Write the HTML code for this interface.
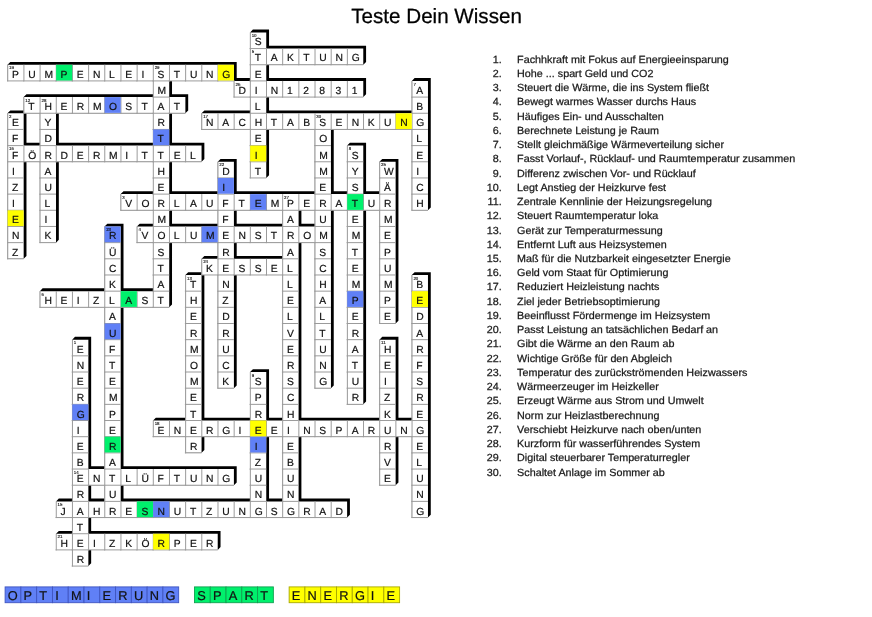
<!DOCTYPE html>
<html><head><meta charset="utf-8"><title>Teste Dein Wissen</title>
<style>
html,body{margin:0;padding:0;background:#fff;}
body{width:872px;height:617px;overflow:hidden;}
svg{display:block;will-change:transform;font-family:"Liberation Sans",sans-serif;text-rendering:geometricPrecision;}
</style></head><body>
<svg width="872" height="617" viewBox="0 0 872 617">
<path d="M250.08 64.74 250.08 48.57 252.88 45.77 269.05 45.77 269.05 61.94 266.25 64.74ZM266.25 64.74 266.25 48.57 269.05 45.77 285.22 45.77 285.22 61.94 282.42 64.74ZM282.42 64.74 282.42 48.57 285.22 45.77 301.4 45.77 301.4 61.94 298.6 64.74ZM298.6 64.74 298.6 48.57 301.4 45.77 317.57 45.77 317.57 61.94 314.77 64.74ZM314.77 64.74 314.77 48.57 317.57 45.77 333.74 45.77 333.74 61.94 330.94 64.74ZM330.94 64.74 330.94 48.57 333.74 45.77 349.91 45.77 349.91 61.94 347.11 64.74ZM347.11 64.74 347.11 48.57 349.91 45.77 366.08 45.77 366.08 61.94 363.28 64.74ZM7.5 80.92 7.5 64.74 10.3 61.94 26.47 61.94 26.47 78.12 23.67 80.92ZM23.67 80.92 23.67 64.74 26.47 61.94 42.64 61.94 42.64 78.12 39.84 80.92ZM39.84 80.92 39.84 64.74 42.64 61.94 58.82 61.94 58.82 78.12 56.02 80.92ZM56.02 80.92 56.02 64.74 58.82 61.94 74.99 61.94 74.99 78.12 72.19 80.92ZM72.19 80.92 72.19 64.74 74.99 61.94 91.16 61.94 91.16 78.12 88.36 80.92ZM88.36 80.92 88.36 64.74 91.16 61.94 107.33 61.94 107.33 78.12 104.53 80.92ZM104.53 80.92 104.53 64.74 107.33 61.94 123.5 61.94 123.5 78.12 120.7 80.92ZM120.7 80.92 120.7 64.74 123.5 61.94 139.68 61.94 139.68 78.12 136.88 80.92ZM136.88 80.92 136.88 64.74 139.68 61.94 155.85 61.94 155.85 78.12 153.05 80.92ZM153.05 80.92 153.05 64.74 155.85 61.94 172.02 61.94 172.02 78.12 169.22 80.92ZM169.22 80.92 169.22 64.74 172.02 61.94 188.19 61.94 188.19 78.12 185.39 80.92ZM185.39 80.92 185.39 64.74 188.19 61.94 204.36 61.94 204.36 78.12 201.56 80.92ZM201.56 80.92 201.56 64.74 204.36 61.94 220.54 61.94 220.54 78.12 217.74 80.92ZM217.74 80.92 217.74 64.74 220.54 61.94 236.71 61.94 236.71 78.12 233.91 80.92ZM233.91 97.09 233.91 80.92 236.71 78.12 252.88 78.12 252.88 94.29 250.08 97.09ZM250.08 97.09 250.08 80.92 252.88 78.12 269.05 78.12 269.05 94.29 266.25 97.09ZM266.25 97.09 266.25 80.92 269.05 78.12 285.22 78.12 285.22 94.29 282.42 97.09ZM282.42 97.09 282.42 80.92 285.22 78.12 301.4 78.12 301.4 94.29 298.6 97.09ZM298.6 97.09 298.6 80.92 301.4 78.12 317.57 78.12 317.57 94.29 314.77 97.09ZM314.77 97.09 314.77 80.92 317.57 78.12 333.74 78.12 333.74 94.29 330.94 97.09ZM330.94 97.09 330.94 80.92 333.74 78.12 349.91 78.12 349.91 94.29 347.11 97.09ZM347.11 97.09 347.11 80.92 349.91 78.12 366.08 78.12 366.08 94.29 363.28 97.09ZM23.67 113.26 23.67 97.09 26.47 94.29 42.64 94.29 42.64 110.46 39.84 113.26ZM39.84 113.26 39.84 97.09 42.64 94.29 58.82 94.29 58.82 110.46 56.02 113.26ZM56.02 113.26 56.02 97.09 58.82 94.29 74.99 94.29 74.99 110.46 72.19 113.26ZM72.19 113.26 72.19 97.09 74.99 94.29 91.16 94.29 91.16 110.46 88.36 113.26ZM88.36 113.26 88.36 97.09 91.16 94.29 107.33 94.29 107.33 110.46 104.53 113.26ZM104.53 113.26 104.53 97.09 107.33 94.29 123.5 94.29 123.5 110.46 120.7 113.26ZM120.7 113.26 120.7 97.09 123.5 94.29 139.68 94.29 139.68 110.46 136.88 113.26ZM136.88 113.26 136.88 97.09 139.68 94.29 155.85 94.29 155.85 110.46 153.05 113.26ZM153.05 113.26 153.05 97.09 155.85 94.29 172.02 94.29 172.02 110.46 169.22 113.26ZM169.22 113.26 169.22 97.09 172.02 94.29 188.19 94.29 188.19 110.46 185.39 113.26ZM201.56 129.43 201.56 113.26 204.36 110.46 220.54 110.46 220.54 126.63 217.74 129.43ZM217.74 129.43 217.74 113.26 220.54 110.46 236.71 110.46 236.71 126.63 233.91 129.43ZM233.91 129.43 233.91 113.26 236.71 110.46 252.88 110.46 252.88 126.63 250.08 129.43ZM250.08 129.43 250.08 113.26 252.88 110.46 269.05 110.46 269.05 126.63 266.25 129.43ZM266.25 129.43 266.25 113.26 269.05 110.46 285.22 110.46 285.22 126.63 282.42 129.43ZM282.42 129.43 282.42 113.26 285.22 110.46 301.4 110.46 301.4 126.63 298.6 129.43ZM298.6 129.43 298.6 113.26 301.4 110.46 317.57 110.46 317.57 126.63 314.77 129.43ZM314.77 129.43 314.77 113.26 317.57 110.46 333.74 110.46 333.74 126.63 330.94 129.43ZM330.94 129.43 330.94 113.26 333.74 110.46 349.91 110.46 349.91 126.63 347.11 129.43ZM347.11 129.43 347.11 113.26 349.91 110.46 366.08 110.46 366.08 126.63 363.28 129.43ZM363.28 129.43 363.28 113.26 366.08 110.46 382.26 110.46 382.26 126.63 379.46 129.43ZM379.46 129.43 379.46 113.26 382.26 110.46 398.43 110.46 398.43 126.63 395.63 129.43ZM395.63 129.43 395.63 113.26 398.43 110.46 414.6 110.46 414.6 126.63 411.8 129.43ZM411.8 129.43 411.8 113.26 414.6 110.46 430.77 110.46 430.77 126.63 427.97 129.43ZM7.5 161.78 7.5 145.6 10.3 142.8 26.47 142.8 26.47 158.98 23.67 161.78ZM23.67 161.78 23.67 145.6 26.47 142.8 42.64 142.8 42.64 158.98 39.84 161.78ZM39.84 161.78 39.84 145.6 42.64 142.8 58.82 142.8 58.82 158.98 56.02 161.78ZM56.02 161.78 56.02 145.6 58.82 142.8 74.99 142.8 74.99 158.98 72.19 161.78ZM72.19 161.78 72.19 145.6 74.99 142.8 91.16 142.8 91.16 158.98 88.36 161.78ZM88.36 161.78 88.36 145.6 91.16 142.8 107.33 142.8 107.33 158.98 104.53 161.78ZM104.53 161.78 104.53 145.6 107.33 142.8 123.5 142.8 123.5 158.98 120.7 161.78ZM120.7 161.78 120.7 145.6 123.5 142.8 139.68 142.8 139.68 158.98 136.88 161.78ZM136.88 161.78 136.88 145.6 139.68 142.8 155.85 142.8 155.85 158.98 153.05 161.78ZM153.05 161.78 153.05 145.6 155.85 142.8 172.02 142.8 172.02 158.98 169.22 161.78ZM169.22 161.78 169.22 145.6 172.02 142.8 188.19 142.8 188.19 158.98 185.39 161.78ZM185.39 161.78 185.39 145.6 188.19 142.8 204.36 142.8 204.36 158.98 201.56 161.78ZM120.7 210.29 120.7 194.12 123.5 191.32 139.68 191.32 139.68 207.49 136.88 210.29ZM136.88 210.29 136.88 194.12 139.68 191.32 155.85 191.32 155.85 207.49 153.05 210.29ZM153.05 210.29 153.05 194.12 155.85 191.32 172.02 191.32 172.02 207.49 169.22 210.29ZM169.22 210.29 169.22 194.12 172.02 191.32 188.19 191.32 188.19 207.49 185.39 210.29ZM185.39 210.29 185.39 194.12 188.19 191.32 204.36 191.32 204.36 207.49 201.56 210.29ZM201.56 210.29 201.56 194.12 204.36 191.32 220.54 191.32 220.54 207.49 217.74 210.29ZM217.74 210.29 217.74 194.12 220.54 191.32 236.71 191.32 236.71 207.49 233.91 210.29ZM233.91 210.29 233.91 194.12 236.71 191.32 252.88 191.32 252.88 207.49 250.08 210.29ZM250.08 210.29 250.08 194.12 252.88 191.32 269.05 191.32 269.05 207.49 266.25 210.29ZM266.25 210.29 266.25 194.12 269.05 191.32 285.22 191.32 285.22 207.49 282.42 210.29ZM282.42 210.29 282.42 194.12 285.22 191.32 301.4 191.32 301.4 207.49 298.6 210.29ZM298.6 210.29 298.6 194.12 301.4 191.32 317.57 191.32 317.57 207.49 314.77 210.29ZM314.77 210.29 314.77 194.12 317.57 191.32 333.74 191.32 333.74 207.49 330.94 210.29ZM330.94 210.29 330.94 194.12 333.74 191.32 349.91 191.32 349.91 207.49 347.11 210.29ZM347.11 210.29 347.11 194.12 349.91 191.32 366.08 191.32 366.08 207.49 363.28 210.29ZM363.28 210.29 363.28 194.12 366.08 191.32 382.26 191.32 382.26 207.49 379.46 210.29ZM379.46 210.29 379.46 194.12 382.26 191.32 398.43 191.32 398.43 207.49 395.63 210.29ZM136.88 242.64 136.88 226.46 139.68 223.66 155.85 223.66 155.85 239.84 153.05 242.64ZM153.05 242.64 153.05 226.46 155.85 223.66 172.02 223.66 172.02 239.84 169.22 242.64ZM169.22 242.64 169.22 226.46 172.02 223.66 188.19 223.66 188.19 239.84 185.39 242.64ZM185.39 242.64 185.39 226.46 188.19 223.66 204.36 223.66 204.36 239.84 201.56 242.64ZM201.56 242.64 201.56 226.46 204.36 223.66 220.54 223.66 220.54 239.84 217.74 242.64ZM217.74 242.64 217.74 226.46 220.54 223.66 236.71 223.66 236.71 239.84 233.91 242.64ZM233.91 242.64 233.91 226.46 236.71 223.66 252.88 223.66 252.88 239.84 250.08 242.64ZM250.08 242.64 250.08 226.46 252.88 223.66 269.05 223.66 269.05 239.84 266.25 242.64ZM266.25 242.64 266.25 226.46 269.05 223.66 285.22 223.66 285.22 239.84 282.42 242.64ZM282.42 242.64 282.42 226.46 285.22 223.66 301.4 223.66 301.4 239.84 298.6 242.64ZM298.6 242.64 298.6 226.46 301.4 223.66 317.57 223.66 317.57 239.84 314.77 242.64ZM314.77 242.64 314.77 226.46 317.57 223.66 333.74 223.66 333.74 239.84 330.94 242.64ZM201.56 274.98 201.56 258.81 204.36 256.01 220.54 256.01 220.54 272.18 217.74 274.98ZM217.74 274.98 217.74 258.81 220.54 256.01 236.71 256.01 236.71 272.18 233.91 274.98ZM233.91 274.98 233.91 258.81 236.71 256.01 252.88 256.01 252.88 272.18 250.08 274.98ZM250.08 274.98 250.08 258.81 252.88 256.01 269.05 256.01 269.05 272.18 266.25 274.98ZM266.25 274.98 266.25 258.81 269.05 256.01 285.22 256.01 285.22 272.18 282.42 274.98ZM282.42 274.98 282.42 258.81 285.22 256.01 301.4 256.01 301.4 272.18 298.6 274.98ZM39.84 307.32 39.84 291.15 42.64 288.35 58.82 288.35 58.82 304.52 56.02 307.32ZM56.02 307.32 56.02 291.15 58.82 288.35 74.99 288.35 74.99 304.52 72.19 307.32ZM72.19 307.32 72.19 291.15 74.99 288.35 91.16 288.35 91.16 304.52 88.36 307.32ZM88.36 307.32 88.36 291.15 91.16 288.35 107.33 288.35 107.33 304.52 104.53 307.32ZM104.53 307.32 104.53 291.15 107.33 288.35 123.5 288.35 123.5 304.52 120.7 307.32ZM120.7 307.32 120.7 291.15 123.5 288.35 139.68 288.35 139.68 304.52 136.88 307.32ZM136.88 307.32 136.88 291.15 139.68 288.35 155.85 288.35 155.85 304.52 153.05 307.32ZM153.05 307.32 153.05 291.15 155.85 288.35 172.02 288.35 172.02 304.52 169.22 307.32ZM153.05 436.7 153.05 420.53 155.85 417.73 172.02 417.73 172.02 433.9 169.22 436.7ZM169.22 436.7 169.22 420.53 172.02 417.73 188.19 417.73 188.19 433.9 185.39 436.7ZM185.39 436.7 185.39 420.53 188.19 417.73 204.36 417.73 204.36 433.9 201.56 436.7ZM201.56 436.7 201.56 420.53 204.36 417.73 220.54 417.73 220.54 433.9 217.74 436.7ZM217.74 436.7 217.74 420.53 220.54 417.73 236.71 417.73 236.71 433.9 233.91 436.7ZM233.91 436.7 233.91 420.53 236.71 417.73 252.88 417.73 252.88 433.9 250.08 436.7ZM250.08 436.7 250.08 420.53 252.88 417.73 269.05 417.73 269.05 433.9 266.25 436.7ZM266.25 436.7 266.25 420.53 269.05 417.73 285.22 417.73 285.22 433.9 282.42 436.7ZM282.42 436.7 282.42 420.53 285.22 417.73 301.4 417.73 301.4 433.9 298.6 436.7ZM298.6 436.7 298.6 420.53 301.4 417.73 317.57 417.73 317.57 433.9 314.77 436.7ZM314.77 436.7 314.77 420.53 317.57 417.73 333.74 417.73 333.74 433.9 330.94 436.7ZM330.94 436.7 330.94 420.53 333.74 417.73 349.91 417.73 349.91 433.9 347.11 436.7ZM347.11 436.7 347.11 420.53 349.91 417.73 366.08 417.73 366.08 433.9 363.28 436.7ZM363.28 436.7 363.28 420.53 366.08 417.73 382.26 417.73 382.26 433.9 379.46 436.7ZM379.46 436.7 379.46 420.53 382.26 417.73 398.43 417.73 398.43 433.9 395.63 436.7ZM395.63 436.7 395.63 420.53 398.43 417.73 414.6 417.73 414.6 433.9 411.8 436.7ZM411.8 436.7 411.8 420.53 414.6 417.73 430.77 417.73 430.77 433.9 427.97 436.7ZM72.19 485.22 72.19 469.04 74.99 466.24 91.16 466.24 91.16 482.42 88.36 485.22ZM88.36 485.22 88.36 469.04 91.16 466.24 107.33 466.24 107.33 482.42 104.53 485.22ZM104.53 485.22 104.53 469.04 107.33 466.24 123.5 466.24 123.5 482.42 120.7 485.22ZM120.7 485.22 120.7 469.04 123.5 466.24 139.68 466.24 139.68 482.42 136.88 485.22ZM136.88 485.22 136.88 469.04 139.68 466.24 155.85 466.24 155.85 482.42 153.05 485.22ZM153.05 485.22 153.05 469.04 155.85 466.24 172.02 466.24 172.02 482.42 169.22 485.22ZM169.22 485.22 169.22 469.04 172.02 466.24 188.19 466.24 188.19 482.42 185.39 485.22ZM185.39 485.22 185.39 469.04 188.19 466.24 204.36 466.24 204.36 482.42 201.56 485.22ZM201.56 485.22 201.56 469.04 204.36 466.24 220.54 466.24 220.54 482.42 217.74 485.22ZM217.74 485.22 217.74 469.04 220.54 466.24 236.71 466.24 236.71 482.42 233.91 485.22ZM56.02 517.56 56.02 501.39 58.82 498.59 74.99 498.59 74.99 514.76 72.19 517.56ZM72.19 517.56 72.19 501.39 74.99 498.59 91.16 498.59 91.16 514.76 88.36 517.56ZM88.36 517.56 88.36 501.39 91.16 498.59 107.33 498.59 107.33 514.76 104.53 517.56ZM104.53 517.56 104.53 501.39 107.33 498.59 123.5 498.59 123.5 514.76 120.7 517.56ZM120.7 517.56 120.7 501.39 123.5 498.59 139.68 498.59 139.68 514.76 136.88 517.56ZM136.88 517.56 136.88 501.39 139.68 498.59 155.85 498.59 155.85 514.76 153.05 517.56ZM153.05 517.56 153.05 501.39 155.85 498.59 172.02 498.59 172.02 514.76 169.22 517.56ZM169.22 517.56 169.22 501.39 172.02 498.59 188.19 498.59 188.19 514.76 185.39 517.56ZM185.39 517.56 185.39 501.39 188.19 498.59 204.36 498.59 204.36 514.76 201.56 517.56ZM201.56 517.56 201.56 501.39 204.36 498.59 220.54 498.59 220.54 514.76 217.74 517.56ZM217.74 517.56 217.74 501.39 220.54 498.59 236.71 498.59 236.71 514.76 233.91 517.56ZM233.91 517.56 233.91 501.39 236.71 498.59 252.88 498.59 252.88 514.76 250.08 517.56ZM250.08 517.56 250.08 501.39 252.88 498.59 269.05 498.59 269.05 514.76 266.25 517.56ZM266.25 517.56 266.25 501.39 269.05 498.59 285.22 498.59 285.22 514.76 282.42 517.56ZM282.42 517.56 282.42 501.39 285.22 498.59 301.4 498.59 301.4 514.76 298.6 517.56ZM298.6 517.56 298.6 501.39 301.4 498.59 317.57 498.59 317.57 514.76 314.77 517.56ZM314.77 517.56 314.77 501.39 317.57 498.59 333.74 498.59 333.74 514.76 330.94 517.56ZM330.94 517.56 330.94 501.39 333.74 498.59 349.91 498.59 349.91 514.76 347.11 517.56ZM56.02 549.9 56.02 533.73 58.82 530.93 74.99 530.93 74.99 547.1 72.19 549.9ZM72.19 549.9 72.19 533.73 74.99 530.93 91.16 530.93 91.16 547.1 88.36 549.9ZM88.36 549.9 88.36 533.73 91.16 530.93 107.33 530.93 107.33 547.1 104.53 549.9ZM104.53 549.9 104.53 533.73 107.33 530.93 123.5 530.93 123.5 547.1 120.7 549.9ZM120.7 549.9 120.7 533.73 123.5 530.93 139.68 530.93 139.68 547.1 136.88 549.9ZM136.88 549.9 136.88 533.73 139.68 530.93 155.85 530.93 155.85 547.1 153.05 549.9ZM153.05 549.9 153.05 533.73 155.85 530.93 172.02 530.93 172.02 547.1 169.22 549.9ZM169.22 549.9 169.22 533.73 172.02 530.93 188.19 530.93 188.19 547.1 185.39 549.9ZM185.39 549.9 185.39 533.73 188.19 530.93 204.36 530.93 204.36 547.1 201.56 549.9ZM201.56 549.9 201.56 533.73 204.36 530.93 220.54 530.93 220.54 547.1 217.74 549.9ZM250.08 48.57 250.08 32.4 252.88 29.6 269.05 29.6 269.05 45.77 266.25 48.57ZM250.08 80.92 250.08 64.74 252.88 61.94 269.05 61.94 269.05 78.12 266.25 80.92ZM250.08 113.26 250.08 97.09 252.88 94.29 269.05 94.29 269.05 110.46 266.25 113.26ZM250.08 145.6 250.08 129.43 252.88 126.63 269.05 126.63 269.05 142.8 266.25 145.6ZM250.08 161.78 250.08 145.6 252.88 142.8 269.05 142.8 269.05 158.98 266.25 161.78ZM250.08 177.95 250.08 161.78 252.88 158.98 269.05 158.98 269.05 175.15 266.25 177.95ZM411.8 97.09 411.8 80.92 414.6 78.12 430.77 78.12 430.77 94.29 427.97 97.09ZM411.8 113.26 411.8 97.09 414.6 94.29 430.77 94.29 430.77 110.46 427.97 113.26ZM411.8 145.6 411.8 129.43 414.6 126.63 430.77 126.63 430.77 142.8 427.97 145.6ZM411.8 161.78 411.8 145.6 414.6 142.8 430.77 142.8 430.77 158.98 427.97 161.78ZM411.8 177.95 411.8 161.78 414.6 158.98 430.77 158.98 430.77 175.15 427.97 177.95ZM411.8 194.12 411.8 177.95 414.6 175.15 430.77 175.15 430.77 191.32 427.97 194.12ZM411.8 210.29 411.8 194.12 414.6 191.32 430.77 191.32 430.77 207.49 427.97 210.29ZM39.84 129.43 39.84 113.26 42.64 110.46 58.82 110.46 58.82 126.63 56.02 129.43ZM39.84 145.6 39.84 129.43 42.64 126.63 58.82 126.63 58.82 142.8 56.02 145.6ZM39.84 177.95 39.84 161.78 42.64 158.98 58.82 158.98 58.82 175.15 56.02 177.95ZM39.84 194.12 39.84 177.95 42.64 175.15 58.82 175.15 58.82 191.32 56.02 194.12ZM39.84 210.29 39.84 194.12 42.64 191.32 58.82 191.32 58.82 207.49 56.02 210.29ZM39.84 226.46 39.84 210.29 42.64 207.49 58.82 207.49 58.82 223.66 56.02 226.46ZM39.84 242.64 39.84 226.46 42.64 223.66 58.82 223.66 58.82 239.84 56.02 242.64ZM7.5 129.43 7.5 113.26 10.3 110.46 26.47 110.46 26.47 126.63 23.67 129.43ZM7.5 145.6 7.5 129.43 10.3 126.63 26.47 126.63 26.47 142.8 23.67 145.6ZM7.5 177.95 7.5 161.78 10.3 158.98 26.47 158.98 26.47 175.15 23.67 177.95ZM7.5 194.12 7.5 177.95 10.3 175.15 26.47 175.15 26.47 191.32 23.67 194.12ZM7.5 210.29 7.5 194.12 10.3 191.32 26.47 191.32 26.47 207.49 23.67 210.29ZM7.5 226.46 7.5 210.29 10.3 207.49 26.47 207.49 26.47 223.66 23.67 226.46ZM7.5 242.64 7.5 226.46 10.3 223.66 26.47 223.66 26.47 239.84 23.67 242.64ZM7.5 258.81 7.5 242.64 10.3 239.84 26.47 239.84 26.47 256.01 23.67 258.81ZM153.05 97.09 153.05 80.92 155.85 78.12 172.02 78.12 172.02 94.29 169.22 97.09ZM153.05 129.43 153.05 113.26 155.85 110.46 172.02 110.46 172.02 126.63 169.22 129.43ZM153.05 145.6 153.05 129.43 155.85 126.63 172.02 126.63 172.02 142.8 169.22 145.6ZM153.05 177.95 153.05 161.78 155.85 158.98 172.02 158.98 172.02 175.15 169.22 177.95ZM153.05 194.12 153.05 177.95 155.85 175.15 172.02 175.15 172.02 191.32 169.22 194.12ZM153.05 226.46 153.05 210.29 155.85 207.49 172.02 207.49 172.02 223.66 169.22 226.46ZM153.05 258.81 153.05 242.64 155.85 239.84 172.02 239.84 172.02 256.01 169.22 258.81ZM153.05 274.98 153.05 258.81 155.85 256.01 172.02 256.01 172.02 272.18 169.22 274.98ZM153.05 291.15 153.05 274.98 155.85 272.18 172.02 272.18 172.02 288.35 169.22 291.15ZM314.77 145.6 314.77 129.43 317.57 126.63 333.74 126.63 333.74 142.8 330.94 145.6ZM314.77 161.78 314.77 145.6 317.57 142.8 333.74 142.8 333.74 158.98 330.94 161.78ZM314.77 177.95 314.77 161.78 317.57 158.98 333.74 158.98 333.74 175.15 330.94 177.95ZM314.77 194.12 314.77 177.95 317.57 175.15 333.74 175.15 333.74 191.32 330.94 194.12ZM314.77 226.46 314.77 210.29 317.57 207.49 333.74 207.49 333.74 223.66 330.94 226.46ZM314.77 258.81 314.77 242.64 317.57 239.84 333.74 239.84 333.74 256.01 330.94 258.81ZM314.77 274.98 314.77 258.81 317.57 256.01 333.74 256.01 333.74 272.18 330.94 274.98ZM314.77 291.15 314.77 274.98 317.57 272.18 333.74 272.18 333.74 288.35 330.94 291.15ZM314.77 307.32 314.77 291.15 317.57 288.35 333.74 288.35 333.74 304.52 330.94 307.32ZM314.77 323.5 314.77 307.32 317.57 304.52 333.74 304.52 333.74 320.7 330.94 323.5ZM314.77 339.67 314.77 323.5 317.57 320.7 333.74 320.7 333.74 336.87 330.94 339.67ZM314.77 355.84 314.77 339.67 317.57 336.87 333.74 336.87 333.74 353.04 330.94 355.84ZM314.77 372.01 314.77 355.84 317.57 353.04 333.74 353.04 333.74 369.21 330.94 372.01ZM314.77 388.18 314.77 372.01 317.57 369.21 333.74 369.21 333.74 385.38 330.94 388.18ZM347.11 161.78 347.11 145.6 349.91 142.8 366.08 142.8 366.08 158.98 363.28 161.78ZM347.11 177.95 347.11 161.78 349.91 158.98 366.08 158.98 366.08 175.15 363.28 177.95ZM347.11 194.12 347.11 177.95 349.91 175.15 366.08 175.15 366.08 191.32 363.28 194.12ZM347.11 226.46 347.11 210.29 349.91 207.49 366.08 207.49 366.08 223.66 363.28 226.46ZM347.11 242.64 347.11 226.46 349.91 223.66 366.08 223.66 366.08 239.84 363.28 242.64ZM347.11 258.81 347.11 242.64 349.91 239.84 366.08 239.84 366.08 256.01 363.28 258.81ZM347.11 274.98 347.11 258.81 349.91 256.01 366.08 256.01 366.08 272.18 363.28 274.98ZM347.11 291.15 347.11 274.98 349.91 272.18 366.08 272.18 366.08 288.35 363.28 291.15ZM347.11 307.32 347.11 291.15 349.91 288.35 366.08 288.35 366.08 304.52 363.28 307.32ZM347.11 323.5 347.11 307.32 349.91 304.52 366.08 304.52 366.08 320.7 363.28 323.5ZM347.11 339.67 347.11 323.5 349.91 320.7 366.08 320.7 366.08 336.87 363.28 339.67ZM347.11 355.84 347.11 339.67 349.91 336.87 366.08 336.87 366.08 353.04 363.28 355.84ZM347.11 372.01 347.11 355.84 349.91 353.04 366.08 353.04 366.08 369.21 363.28 372.01ZM347.11 388.18 347.11 372.01 349.91 369.21 366.08 369.21 366.08 385.38 363.28 388.18ZM347.11 404.36 347.11 388.18 349.91 385.38 366.08 385.38 366.08 401.56 363.28 404.36ZM217.74 177.95 217.74 161.78 220.54 158.98 236.71 158.98 236.71 175.15 233.91 177.95ZM217.74 194.12 217.74 177.95 220.54 175.15 236.71 175.15 236.71 191.32 233.91 194.12ZM217.74 226.46 217.74 210.29 220.54 207.49 236.71 207.49 236.71 223.66 233.91 226.46ZM217.74 258.81 217.74 242.64 220.54 239.84 236.71 239.84 236.71 256.01 233.91 258.81ZM217.74 291.15 217.74 274.98 220.54 272.18 236.71 272.18 236.71 288.35 233.91 291.15ZM217.74 307.32 217.74 291.15 220.54 288.35 236.71 288.35 236.71 304.52 233.91 307.32ZM217.74 323.5 217.74 307.32 220.54 304.52 236.71 304.52 236.71 320.7 233.91 323.5ZM217.74 339.67 217.74 323.5 220.54 320.7 236.71 320.7 236.71 336.87 233.91 339.67ZM217.74 355.84 217.74 339.67 220.54 336.87 236.71 336.87 236.71 353.04 233.91 355.84ZM217.74 372.01 217.74 355.84 220.54 353.04 236.71 353.04 236.71 369.21 233.91 372.01ZM217.74 388.18 217.74 372.01 220.54 369.21 236.71 369.21 236.71 385.38 233.91 388.18ZM379.46 177.95 379.46 161.78 382.26 158.98 398.43 158.98 398.43 175.15 395.63 177.95ZM379.46 194.12 379.46 177.95 382.26 175.15 398.43 175.15 398.43 191.32 395.63 194.12ZM379.46 226.46 379.46 210.29 382.26 207.49 398.43 207.49 398.43 223.66 395.63 226.46ZM379.46 242.64 379.46 226.46 382.26 223.66 398.43 223.66 398.43 239.84 395.63 242.64ZM379.46 258.81 379.46 242.64 382.26 239.84 398.43 239.84 398.43 256.01 395.63 258.81ZM379.46 274.98 379.46 258.81 382.26 256.01 398.43 256.01 398.43 272.18 395.63 274.98ZM379.46 291.15 379.46 274.98 382.26 272.18 398.43 272.18 398.43 288.35 395.63 291.15ZM379.46 307.32 379.46 291.15 382.26 288.35 398.43 288.35 398.43 304.52 395.63 307.32ZM379.46 323.5 379.46 307.32 382.26 304.52 398.43 304.52 398.43 320.7 395.63 323.5ZM282.42 226.46 282.42 210.29 285.22 207.49 301.4 207.49 301.4 223.66 298.6 226.46ZM282.42 258.81 282.42 242.64 285.22 239.84 301.4 239.84 301.4 256.01 298.6 258.81ZM282.42 291.15 282.42 274.98 285.22 272.18 301.4 272.18 301.4 288.35 298.6 291.15ZM282.42 307.32 282.42 291.15 285.22 288.35 301.4 288.35 301.4 304.52 298.6 307.32ZM282.42 323.5 282.42 307.32 285.22 304.52 301.4 304.52 301.4 320.7 298.6 323.5ZM282.42 339.67 282.42 323.5 285.22 320.7 301.4 320.7 301.4 336.87 298.6 339.67ZM282.42 355.84 282.42 339.67 285.22 336.87 301.4 336.87 301.4 353.04 298.6 355.84ZM282.42 372.01 282.42 355.84 285.22 353.04 301.4 353.04 301.4 369.21 298.6 372.01ZM282.42 388.18 282.42 372.01 285.22 369.21 301.4 369.21 301.4 385.38 298.6 388.18ZM282.42 404.36 282.42 388.18 285.22 385.38 301.4 385.38 301.4 401.56 298.6 404.36ZM282.42 420.53 282.42 404.36 285.22 401.56 301.4 401.56 301.4 417.73 298.6 420.53ZM282.42 452.87 282.42 436.7 285.22 433.9 301.4 433.9 301.4 450.07 298.6 452.87ZM282.42 469.04 282.42 452.87 285.22 450.07 301.4 450.07 301.4 466.24 298.6 469.04ZM282.42 485.22 282.42 469.04 285.22 466.24 301.4 466.24 301.4 482.42 298.6 485.22ZM282.42 501.39 282.42 485.22 285.22 482.42 301.4 482.42 301.4 498.59 298.6 501.39ZM104.53 242.64 104.53 226.46 107.33 223.66 123.5 223.66 123.5 239.84 120.7 242.64ZM104.53 258.81 104.53 242.64 107.33 239.84 123.5 239.84 123.5 256.01 120.7 258.81ZM104.53 274.98 104.53 258.81 107.33 256.01 123.5 256.01 123.5 272.18 120.7 274.98ZM104.53 291.15 104.53 274.98 107.33 272.18 123.5 272.18 123.5 288.35 120.7 291.15ZM104.53 323.5 104.53 307.32 107.33 304.52 123.5 304.52 123.5 320.7 120.7 323.5ZM104.53 339.67 104.53 323.5 107.33 320.7 123.5 320.7 123.5 336.87 120.7 339.67ZM104.53 355.84 104.53 339.67 107.33 336.87 123.5 336.87 123.5 353.04 120.7 355.84ZM104.53 372.01 104.53 355.84 107.33 353.04 123.5 353.04 123.5 369.21 120.7 372.01ZM104.53 388.18 104.53 372.01 107.33 369.21 123.5 369.21 123.5 385.38 120.7 388.18ZM104.53 404.36 104.53 388.18 107.33 385.38 123.5 385.38 123.5 401.56 120.7 404.36ZM104.53 420.53 104.53 404.36 107.33 401.56 123.5 401.56 123.5 417.73 120.7 420.53ZM104.53 436.7 104.53 420.53 107.33 417.73 123.5 417.73 123.5 433.9 120.7 436.7ZM104.53 452.87 104.53 436.7 107.33 433.9 123.5 433.9 123.5 450.07 120.7 452.87ZM104.53 469.04 104.53 452.87 107.33 450.07 123.5 450.07 123.5 466.24 120.7 469.04ZM104.53 501.39 104.53 485.22 107.33 482.42 123.5 482.42 123.5 498.59 120.7 501.39ZM185.39 291.15 185.39 274.98 188.19 272.18 204.36 272.18 204.36 288.35 201.56 291.15ZM185.39 307.32 185.39 291.15 188.19 288.35 204.36 288.35 204.36 304.52 201.56 307.32ZM185.39 323.5 185.39 307.32 188.19 304.52 204.36 304.52 204.36 320.7 201.56 323.5ZM185.39 339.67 185.39 323.5 188.19 320.7 204.36 320.7 204.36 336.87 201.56 339.67ZM185.39 355.84 185.39 339.67 188.19 336.87 204.36 336.87 204.36 353.04 201.56 355.84ZM185.39 372.01 185.39 355.84 188.19 353.04 204.36 353.04 204.36 369.21 201.56 372.01ZM185.39 388.18 185.39 372.01 188.19 369.21 204.36 369.21 204.36 385.38 201.56 388.18ZM185.39 404.36 185.39 388.18 188.19 385.38 204.36 385.38 204.36 401.56 201.56 404.36ZM185.39 420.53 185.39 404.36 188.19 401.56 204.36 401.56 204.36 417.73 201.56 420.53ZM185.39 452.87 185.39 436.7 188.19 433.9 204.36 433.9 204.36 450.07 201.56 452.87ZM411.8 291.15 411.8 274.98 414.6 272.18 430.77 272.18 430.77 288.35 427.97 291.15ZM411.8 307.32 411.8 291.15 414.6 288.35 430.77 288.35 430.77 304.52 427.97 307.32ZM411.8 323.5 411.8 307.32 414.6 304.52 430.77 304.52 430.77 320.7 427.97 323.5ZM411.8 339.67 411.8 323.5 414.6 320.7 430.77 320.7 430.77 336.87 427.97 339.67ZM411.8 355.84 411.8 339.67 414.6 336.87 430.77 336.87 430.77 353.04 427.97 355.84ZM411.8 372.01 411.8 355.84 414.6 353.04 430.77 353.04 430.77 369.21 427.97 372.01ZM411.8 388.18 411.8 372.01 414.6 369.21 430.77 369.21 430.77 385.38 427.97 388.18ZM411.8 404.36 411.8 388.18 414.6 385.38 430.77 385.38 430.77 401.56 427.97 404.36ZM411.8 420.53 411.8 404.36 414.6 401.56 430.77 401.56 430.77 417.73 427.97 420.53ZM411.8 452.87 411.8 436.7 414.6 433.9 430.77 433.9 430.77 450.07 427.97 452.87ZM411.8 469.04 411.8 452.87 414.6 450.07 430.77 450.07 430.77 466.24 427.97 469.04ZM411.8 485.22 411.8 469.04 414.6 466.24 430.77 466.24 430.77 482.42 427.97 485.22ZM411.8 501.39 411.8 485.22 414.6 482.42 430.77 482.42 430.77 498.59 427.97 501.39ZM411.8 517.56 411.8 501.39 414.6 498.59 430.77 498.59 430.77 514.76 427.97 517.56ZM72.19 355.84 72.19 339.67 74.99 336.87 91.16 336.87 91.16 353.04 88.36 355.84ZM72.19 372.01 72.19 355.84 74.99 353.04 91.16 353.04 91.16 369.21 88.36 372.01ZM72.19 388.18 72.19 372.01 74.99 369.21 91.16 369.21 91.16 385.38 88.36 388.18ZM72.19 404.36 72.19 388.18 74.99 385.38 91.16 385.38 91.16 401.56 88.36 404.36ZM72.19 420.53 72.19 404.36 74.99 401.56 91.16 401.56 91.16 417.73 88.36 420.53ZM72.19 436.7 72.19 420.53 74.99 417.73 91.16 417.73 91.16 433.9 88.36 436.7ZM72.19 452.87 72.19 436.7 74.99 433.9 91.16 433.9 91.16 450.07 88.36 452.87ZM72.19 469.04 72.19 452.87 74.99 450.07 91.16 450.07 91.16 466.24 88.36 469.04ZM72.19 501.39 72.19 485.22 74.99 482.42 91.16 482.42 91.16 498.59 88.36 501.39ZM72.19 533.73 72.19 517.56 74.99 514.76 91.16 514.76 91.16 530.93 88.36 533.73ZM72.19 566.08 72.19 549.9 74.99 547.1 91.16 547.1 91.16 563.28 88.36 566.08ZM250.08 388.18 250.08 372.01 252.88 369.21 269.05 369.21 269.05 385.38 266.25 388.18ZM250.08 404.36 250.08 388.18 252.88 385.38 269.05 385.38 269.05 401.56 266.25 404.36ZM250.08 420.53 250.08 404.36 252.88 401.56 269.05 401.56 269.05 417.73 266.25 420.53ZM250.08 452.87 250.08 436.7 252.88 433.9 269.05 433.9 269.05 450.07 266.25 452.87ZM250.08 469.04 250.08 452.87 252.88 450.07 269.05 450.07 269.05 466.24 266.25 469.04ZM250.08 485.22 250.08 469.04 252.88 466.24 269.05 466.24 269.05 482.42 266.25 485.22ZM250.08 501.39 250.08 485.22 252.88 482.42 269.05 482.42 269.05 498.59 266.25 501.39ZM379.46 355.84 379.46 339.67 382.26 336.87 398.43 336.87 398.43 353.04 395.63 355.84ZM379.46 372.01 379.46 355.84 382.26 353.04 398.43 353.04 398.43 369.21 395.63 372.01ZM379.46 388.18 379.46 372.01 382.26 369.21 398.43 369.21 398.43 385.38 395.63 388.18ZM379.46 404.36 379.46 388.18 382.26 385.38 398.43 385.38 398.43 401.56 395.63 404.36ZM379.46 420.53 379.46 404.36 382.26 401.56 398.43 401.56 398.43 417.73 395.63 420.53ZM379.46 452.87 379.46 436.7 382.26 433.9 398.43 433.9 398.43 450.07 395.63 452.87ZM379.46 469.04 379.46 452.87 382.26 450.07 398.43 450.07 398.43 466.24 395.63 469.04ZM379.46 485.22 379.46 469.04 382.26 466.24 398.43 466.24 398.43 482.42 395.63 485.22Z" fill="#000"/>
<path d="M250.08 48.57h16.17v16.17h-16.17ZM266.25 48.57h16.17v16.17h-16.17ZM282.42 48.57h16.17v16.17h-16.17ZM298.6 48.57h16.17v16.17h-16.17ZM314.77 48.57h16.17v16.17h-16.17ZM330.94 48.57h16.17v16.17h-16.17ZM347.11 48.57h16.17v16.17h-16.17ZM7.5 64.74h16.17v16.17h-16.17ZM23.67 64.74h16.17v16.17h-16.17ZM39.84 64.74h16.17v16.17h-16.17ZM56.02 64.74h16.17v16.17h-16.17ZM72.19 64.74h16.17v16.17h-16.17ZM88.36 64.74h16.17v16.17h-16.17ZM104.53 64.74h16.17v16.17h-16.17ZM120.7 64.74h16.17v16.17h-16.17ZM136.88 64.74h16.17v16.17h-16.17ZM153.05 64.74h16.17v16.17h-16.17ZM169.22 64.74h16.17v16.17h-16.17ZM185.39 64.74h16.17v16.17h-16.17ZM201.56 64.74h16.17v16.17h-16.17ZM217.74 64.74h16.17v16.17h-16.17ZM233.91 80.92h16.17v16.17h-16.17ZM250.08 80.92h16.17v16.17h-16.17ZM266.25 80.92h16.17v16.17h-16.17ZM282.42 80.92h16.17v16.17h-16.17ZM298.6 80.92h16.17v16.17h-16.17ZM314.77 80.92h16.17v16.17h-16.17ZM330.94 80.92h16.17v16.17h-16.17ZM347.11 80.92h16.17v16.17h-16.17ZM23.67 97.09h16.17v16.17h-16.17ZM39.84 97.09h16.17v16.17h-16.17ZM56.02 97.09h16.17v16.17h-16.17ZM72.19 97.09h16.17v16.17h-16.17ZM88.36 97.09h16.17v16.17h-16.17ZM104.53 97.09h16.17v16.17h-16.17ZM120.7 97.09h16.17v16.17h-16.17ZM136.88 97.09h16.17v16.17h-16.17ZM153.05 97.09h16.17v16.17h-16.17ZM169.22 97.09h16.17v16.17h-16.17ZM201.56 113.26h16.17v16.17h-16.17ZM217.74 113.26h16.17v16.17h-16.17ZM233.91 113.26h16.17v16.17h-16.17ZM250.08 113.26h16.17v16.17h-16.17ZM266.25 113.26h16.17v16.17h-16.17ZM282.42 113.26h16.17v16.17h-16.17ZM298.6 113.26h16.17v16.17h-16.17ZM314.77 113.26h16.17v16.17h-16.17ZM330.94 113.26h16.17v16.17h-16.17ZM347.11 113.26h16.17v16.17h-16.17ZM363.28 113.26h16.17v16.17h-16.17ZM379.46 113.26h16.17v16.17h-16.17ZM395.63 113.26h16.17v16.17h-16.17ZM411.8 113.26h16.17v16.17h-16.17ZM7.5 145.6h16.17v16.17h-16.17ZM23.67 145.6h16.17v16.17h-16.17ZM39.84 145.6h16.17v16.17h-16.17ZM56.02 145.6h16.17v16.17h-16.17ZM72.19 145.6h16.17v16.17h-16.17ZM88.36 145.6h16.17v16.17h-16.17ZM104.53 145.6h16.17v16.17h-16.17ZM120.7 145.6h16.17v16.17h-16.17ZM136.88 145.6h16.17v16.17h-16.17ZM153.05 145.6h16.17v16.17h-16.17ZM169.22 145.6h16.17v16.17h-16.17ZM185.39 145.6h16.17v16.17h-16.17ZM120.7 194.12h16.17v16.17h-16.17ZM136.88 194.12h16.17v16.17h-16.17ZM153.05 194.12h16.17v16.17h-16.17ZM169.22 194.12h16.17v16.17h-16.17ZM185.39 194.12h16.17v16.17h-16.17ZM201.56 194.12h16.17v16.17h-16.17ZM217.74 194.12h16.17v16.17h-16.17ZM233.91 194.12h16.17v16.17h-16.17ZM250.08 194.12h16.17v16.17h-16.17ZM266.25 194.12h16.17v16.17h-16.17ZM282.42 194.12h16.17v16.17h-16.17ZM298.6 194.12h16.17v16.17h-16.17ZM314.77 194.12h16.17v16.17h-16.17ZM330.94 194.12h16.17v16.17h-16.17ZM347.11 194.12h16.17v16.17h-16.17ZM363.28 194.12h16.17v16.17h-16.17ZM379.46 194.12h16.17v16.17h-16.17ZM136.88 226.46h16.17v16.17h-16.17ZM153.05 226.46h16.17v16.17h-16.17ZM169.22 226.46h16.17v16.17h-16.17ZM185.39 226.46h16.17v16.17h-16.17ZM201.56 226.46h16.17v16.17h-16.17ZM217.74 226.46h16.17v16.17h-16.17ZM233.91 226.46h16.17v16.17h-16.17ZM250.08 226.46h16.17v16.17h-16.17ZM266.25 226.46h16.17v16.17h-16.17ZM282.42 226.46h16.17v16.17h-16.17ZM298.6 226.46h16.17v16.17h-16.17ZM314.77 226.46h16.17v16.17h-16.17ZM201.56 258.81h16.17v16.17h-16.17ZM217.74 258.81h16.17v16.17h-16.17ZM233.91 258.81h16.17v16.17h-16.17ZM250.08 258.81h16.17v16.17h-16.17ZM266.25 258.81h16.17v16.17h-16.17ZM282.42 258.81h16.17v16.17h-16.17ZM39.84 291.15h16.17v16.17h-16.17ZM56.02 291.15h16.17v16.17h-16.17ZM72.19 291.15h16.17v16.17h-16.17ZM88.36 291.15h16.17v16.17h-16.17ZM104.53 291.15h16.17v16.17h-16.17ZM120.7 291.15h16.17v16.17h-16.17ZM136.88 291.15h16.17v16.17h-16.17ZM153.05 291.15h16.17v16.17h-16.17ZM153.05 420.53h16.17v16.17h-16.17ZM169.22 420.53h16.17v16.17h-16.17ZM185.39 420.53h16.17v16.17h-16.17ZM201.56 420.53h16.17v16.17h-16.17ZM217.74 420.53h16.17v16.17h-16.17ZM233.91 420.53h16.17v16.17h-16.17ZM250.08 420.53h16.17v16.17h-16.17ZM266.25 420.53h16.17v16.17h-16.17ZM282.42 420.53h16.17v16.17h-16.17ZM298.6 420.53h16.17v16.17h-16.17ZM314.77 420.53h16.17v16.17h-16.17ZM330.94 420.53h16.17v16.17h-16.17ZM347.11 420.53h16.17v16.17h-16.17ZM363.28 420.53h16.17v16.17h-16.17ZM379.46 420.53h16.17v16.17h-16.17ZM395.63 420.53h16.17v16.17h-16.17ZM411.8 420.53h16.17v16.17h-16.17ZM72.19 469.04h16.17v16.17h-16.17ZM88.36 469.04h16.17v16.17h-16.17ZM104.53 469.04h16.17v16.17h-16.17ZM120.7 469.04h16.17v16.17h-16.17ZM136.88 469.04h16.17v16.17h-16.17ZM153.05 469.04h16.17v16.17h-16.17ZM169.22 469.04h16.17v16.17h-16.17ZM185.39 469.04h16.17v16.17h-16.17ZM201.56 469.04h16.17v16.17h-16.17ZM217.74 469.04h16.17v16.17h-16.17ZM56.02 501.39h16.17v16.17h-16.17ZM72.19 501.39h16.17v16.17h-16.17ZM88.36 501.39h16.17v16.17h-16.17ZM104.53 501.39h16.17v16.17h-16.17ZM120.7 501.39h16.17v16.17h-16.17ZM136.88 501.39h16.17v16.17h-16.17ZM153.05 501.39h16.17v16.17h-16.17ZM169.22 501.39h16.17v16.17h-16.17ZM185.39 501.39h16.17v16.17h-16.17ZM201.56 501.39h16.17v16.17h-16.17ZM217.74 501.39h16.17v16.17h-16.17ZM233.91 501.39h16.17v16.17h-16.17ZM250.08 501.39h16.17v16.17h-16.17ZM266.25 501.39h16.17v16.17h-16.17ZM282.42 501.39h16.17v16.17h-16.17ZM298.6 501.39h16.17v16.17h-16.17ZM314.77 501.39h16.17v16.17h-16.17ZM330.94 501.39h16.17v16.17h-16.17ZM56.02 533.73h16.17v16.17h-16.17ZM72.19 533.73h16.17v16.17h-16.17ZM88.36 533.73h16.17v16.17h-16.17ZM104.53 533.73h16.17v16.17h-16.17ZM120.7 533.73h16.17v16.17h-16.17ZM136.88 533.73h16.17v16.17h-16.17ZM153.05 533.73h16.17v16.17h-16.17ZM169.22 533.73h16.17v16.17h-16.17ZM185.39 533.73h16.17v16.17h-16.17ZM201.56 533.73h16.17v16.17h-16.17ZM250.08 32.4h16.17v16.17h-16.17ZM250.08 64.74h16.17v16.17h-16.17ZM250.08 97.09h16.17v16.17h-16.17ZM250.08 129.43h16.17v16.17h-16.17ZM250.08 145.6h16.17v16.17h-16.17ZM250.08 161.78h16.17v16.17h-16.17ZM411.8 80.92h16.17v16.17h-16.17ZM411.8 97.09h16.17v16.17h-16.17ZM411.8 129.43h16.17v16.17h-16.17ZM411.8 145.6h16.17v16.17h-16.17ZM411.8 161.78h16.17v16.17h-16.17ZM411.8 177.95h16.17v16.17h-16.17ZM411.8 194.12h16.17v16.17h-16.17ZM39.84 113.26h16.17v16.17h-16.17ZM39.84 129.43h16.17v16.17h-16.17ZM39.84 161.78h16.17v16.17h-16.17ZM39.84 177.95h16.17v16.17h-16.17ZM39.84 194.12h16.17v16.17h-16.17ZM39.84 210.29h16.17v16.17h-16.17ZM39.84 226.46h16.17v16.17h-16.17ZM7.5 113.26h16.17v16.17h-16.17ZM7.5 129.43h16.17v16.17h-16.17ZM7.5 161.78h16.17v16.17h-16.17ZM7.5 177.95h16.17v16.17h-16.17ZM7.5 194.12h16.17v16.17h-16.17ZM7.5 210.29h16.17v16.17h-16.17ZM7.5 226.46h16.17v16.17h-16.17ZM7.5 242.64h16.17v16.17h-16.17ZM153.05 80.92h16.17v16.17h-16.17ZM153.05 113.26h16.17v16.17h-16.17ZM153.05 129.43h16.17v16.17h-16.17ZM153.05 161.78h16.17v16.17h-16.17ZM153.05 177.95h16.17v16.17h-16.17ZM153.05 210.29h16.17v16.17h-16.17ZM153.05 242.64h16.17v16.17h-16.17ZM153.05 258.81h16.17v16.17h-16.17ZM153.05 274.98h16.17v16.17h-16.17ZM314.77 129.43h16.17v16.17h-16.17ZM314.77 145.6h16.17v16.17h-16.17ZM314.77 161.78h16.17v16.17h-16.17ZM314.77 177.95h16.17v16.17h-16.17ZM314.77 210.29h16.17v16.17h-16.17ZM314.77 242.64h16.17v16.17h-16.17ZM314.77 258.81h16.17v16.17h-16.17ZM314.77 274.98h16.17v16.17h-16.17ZM314.77 291.15h16.17v16.17h-16.17ZM314.77 307.32h16.17v16.17h-16.17ZM314.77 323.5h16.17v16.17h-16.17ZM314.77 339.67h16.17v16.17h-16.17ZM314.77 355.84h16.17v16.17h-16.17ZM314.77 372.01h16.17v16.17h-16.17ZM347.11 145.6h16.17v16.17h-16.17ZM347.11 161.78h16.17v16.17h-16.17ZM347.11 177.95h16.17v16.17h-16.17ZM347.11 210.29h16.17v16.17h-16.17ZM347.11 226.46h16.17v16.17h-16.17ZM347.11 242.64h16.17v16.17h-16.17ZM347.11 258.81h16.17v16.17h-16.17ZM347.11 274.98h16.17v16.17h-16.17ZM347.11 291.15h16.17v16.17h-16.17ZM347.11 307.32h16.17v16.17h-16.17ZM347.11 323.5h16.17v16.17h-16.17ZM347.11 339.67h16.17v16.17h-16.17ZM347.11 355.84h16.17v16.17h-16.17ZM347.11 372.01h16.17v16.17h-16.17ZM347.11 388.18h16.17v16.17h-16.17ZM217.74 161.78h16.17v16.17h-16.17ZM217.74 177.95h16.17v16.17h-16.17ZM217.74 210.29h16.17v16.17h-16.17ZM217.74 242.64h16.17v16.17h-16.17ZM217.74 274.98h16.17v16.17h-16.17ZM217.74 291.15h16.17v16.17h-16.17ZM217.74 307.32h16.17v16.17h-16.17ZM217.74 323.5h16.17v16.17h-16.17ZM217.74 339.67h16.17v16.17h-16.17ZM217.74 355.84h16.17v16.17h-16.17ZM217.74 372.01h16.17v16.17h-16.17ZM379.46 161.78h16.17v16.17h-16.17ZM379.46 177.95h16.17v16.17h-16.17ZM379.46 210.29h16.17v16.17h-16.17ZM379.46 226.46h16.17v16.17h-16.17ZM379.46 242.64h16.17v16.17h-16.17ZM379.46 258.81h16.17v16.17h-16.17ZM379.46 274.98h16.17v16.17h-16.17ZM379.46 291.15h16.17v16.17h-16.17ZM379.46 307.32h16.17v16.17h-16.17ZM282.42 210.29h16.17v16.17h-16.17ZM282.42 242.64h16.17v16.17h-16.17ZM282.42 274.98h16.17v16.17h-16.17ZM282.42 291.15h16.17v16.17h-16.17ZM282.42 307.32h16.17v16.17h-16.17ZM282.42 323.5h16.17v16.17h-16.17ZM282.42 339.67h16.17v16.17h-16.17ZM282.42 355.84h16.17v16.17h-16.17ZM282.42 372.01h16.17v16.17h-16.17ZM282.42 388.18h16.17v16.17h-16.17ZM282.42 404.36h16.17v16.17h-16.17ZM282.42 436.7h16.17v16.17h-16.17ZM282.42 452.87h16.17v16.17h-16.17ZM282.42 469.04h16.17v16.17h-16.17ZM282.42 485.22h16.17v16.17h-16.17ZM104.53 226.46h16.17v16.17h-16.17ZM104.53 242.64h16.17v16.17h-16.17ZM104.53 258.81h16.17v16.17h-16.17ZM104.53 274.98h16.17v16.17h-16.17ZM104.53 307.32h16.17v16.17h-16.17ZM104.53 323.5h16.17v16.17h-16.17ZM104.53 339.67h16.17v16.17h-16.17ZM104.53 355.84h16.17v16.17h-16.17ZM104.53 372.01h16.17v16.17h-16.17ZM104.53 388.18h16.17v16.17h-16.17ZM104.53 404.36h16.17v16.17h-16.17ZM104.53 420.53h16.17v16.17h-16.17ZM104.53 436.7h16.17v16.17h-16.17ZM104.53 452.87h16.17v16.17h-16.17ZM104.53 485.22h16.17v16.17h-16.17ZM185.39 274.98h16.17v16.17h-16.17ZM185.39 291.15h16.17v16.17h-16.17ZM185.39 307.32h16.17v16.17h-16.17ZM185.39 323.5h16.17v16.17h-16.17ZM185.39 339.67h16.17v16.17h-16.17ZM185.39 355.84h16.17v16.17h-16.17ZM185.39 372.01h16.17v16.17h-16.17ZM185.39 388.18h16.17v16.17h-16.17ZM185.39 404.36h16.17v16.17h-16.17ZM185.39 436.7h16.17v16.17h-16.17ZM411.8 274.98h16.17v16.17h-16.17ZM411.8 291.15h16.17v16.17h-16.17ZM411.8 307.32h16.17v16.17h-16.17ZM411.8 323.5h16.17v16.17h-16.17ZM411.8 339.67h16.17v16.17h-16.17ZM411.8 355.84h16.17v16.17h-16.17ZM411.8 372.01h16.17v16.17h-16.17ZM411.8 388.18h16.17v16.17h-16.17ZM411.8 404.36h16.17v16.17h-16.17ZM411.8 436.7h16.17v16.17h-16.17ZM411.8 452.87h16.17v16.17h-16.17ZM411.8 469.04h16.17v16.17h-16.17ZM411.8 485.22h16.17v16.17h-16.17ZM411.8 501.39h16.17v16.17h-16.17ZM72.19 339.67h16.17v16.17h-16.17ZM72.19 355.84h16.17v16.17h-16.17ZM72.19 372.01h16.17v16.17h-16.17ZM72.19 388.18h16.17v16.17h-16.17ZM72.19 404.36h16.17v16.17h-16.17ZM72.19 420.53h16.17v16.17h-16.17ZM72.19 436.7h16.17v16.17h-16.17ZM72.19 452.87h16.17v16.17h-16.17ZM72.19 485.22h16.17v16.17h-16.17ZM72.19 517.56h16.17v16.17h-16.17ZM72.19 549.9h16.17v16.17h-16.17ZM250.08 372.01h16.17v16.17h-16.17ZM250.08 388.18h16.17v16.17h-16.17ZM250.08 404.36h16.17v16.17h-16.17ZM250.08 436.7h16.17v16.17h-16.17ZM250.08 452.87h16.17v16.17h-16.17ZM250.08 469.04h16.17v16.17h-16.17ZM250.08 485.22h16.17v16.17h-16.17ZM379.46 339.67h16.17v16.17h-16.17ZM379.46 355.84h16.17v16.17h-16.17ZM379.46 372.01h16.17v16.17h-16.17ZM379.46 388.18h16.17v16.17h-16.17ZM379.46 404.36h16.17v16.17h-16.17ZM379.46 436.7h16.17v16.17h-16.17ZM379.46 452.87h16.17v16.17h-16.17ZM379.46 469.04h16.17v16.17h-16.17Z" fill="#fff"/>
<path d="M250.33 48.57V65.24M249.58 64.74H266.25M266.5 48.57V65.24M265.75 64.74H282.42M282.67 48.57V65.24M281.92 64.74H298.6M298.85 48.57V65.24M298.1 64.74H314.77M315.02 48.57V65.24M314.27 64.74H330.94M331.19 48.57V65.24M330.44 64.74H347.11M347.36 48.57V65.24M346.61 64.74H363.28M7.75 64.74V81.42M7 80.92H23.67M23.92 64.74V81.42M23.17 80.92H39.84M40.09 64.74V81.42M39.34 80.92H56.02M56.27 64.74V81.42M55.52 80.92H72.19M72.44 64.74V81.42M71.69 80.92H88.36M88.61 64.74V81.42M87.86 80.92H104.53M104.78 64.74V81.42M104.03 80.92H120.7M120.95 64.74V81.42M120.2 80.92H136.88M137.13 64.74V81.42M136.38 80.92H153.05M153.3 64.74V81.42M152.55 80.92H169.22M169.47 64.74V81.42M168.72 80.92H185.39M185.64 64.74V81.42M184.89 80.92H201.56M201.81 64.74V81.42M201.06 80.92H217.74M217.99 64.74V81.42M217.24 80.92H233.91M234.16 80.92V97.59M233.41 97.09H250.08M250.33 80.92V97.59M249.58 97.09H266.25M266.5 80.92V97.59M265.75 97.09H282.42M282.67 80.92V97.59M281.92 97.09H298.6M298.85 80.92V97.59M298.1 97.09H314.77M315.02 80.92V97.59M314.27 97.09H330.94M331.19 80.92V97.59M330.44 97.09H347.11M347.36 80.92V97.59M346.61 97.09H363.28M23.92 97.09V113.76M23.17 113.26H39.84M40.09 97.09V113.76M39.34 113.26H56.02M56.27 97.09V113.76M55.52 113.26H72.19M72.44 97.09V113.76M71.69 113.26H88.36M88.61 97.09V113.76M87.86 113.26H104.53M104.78 97.09V113.76M104.03 113.26H120.7M120.95 97.09V113.76M120.2 113.26H136.88M137.13 97.09V113.76M136.38 113.26H153.05M153.3 97.09V113.76M152.55 113.26H169.22M169.47 97.09V113.76M168.72 113.26H185.39M201.81 113.26V129.93M201.06 129.43H217.74M217.99 113.26V129.93M217.24 129.43H233.91M234.16 113.26V129.93M233.41 129.43H250.08M250.33 113.26V129.93M249.58 129.43H266.25M266.5 113.26V129.93M265.75 129.43H282.42M282.67 113.26V129.93M281.92 129.43H298.6M298.85 113.26V129.93M298.1 129.43H314.77M315.02 113.26V129.93M314.27 129.43H330.94M331.19 113.26V129.93M330.44 129.43H347.11M347.36 113.26V129.93M346.61 129.43H363.28M363.53 113.26V129.93M362.78 129.43H379.46M379.71 113.26V129.93M378.96 129.43H395.63M395.88 113.26V129.93M395.13 129.43H411.8M412.05 113.26V129.93M411.3 129.43H427.97M7.75 145.6V162.28M7 161.78H23.67M23.92 145.6V162.28M23.17 161.78H39.84M40.09 145.6V162.28M39.34 161.78H56.02M56.27 145.6V162.28M55.52 161.78H72.19M72.44 145.6V162.28M71.69 161.78H88.36M88.61 145.6V162.28M87.86 161.78H104.53M104.78 145.6V162.28M104.03 161.78H120.7M120.95 145.6V162.28M120.2 161.78H136.88M137.13 145.6V162.28M136.38 161.78H153.05M153.3 145.6V162.28M152.55 161.78H169.22M169.47 145.6V162.28M168.72 161.78H185.39M185.64 145.6V162.28M184.89 161.78H201.56M120.95 194.12V210.79M120.2 210.29H136.88M137.13 194.12V210.79M136.38 210.29H153.05M153.3 194.12V210.79M152.55 210.29H169.22M169.47 194.12V210.79M168.72 210.29H185.39M185.64 194.12V210.79M184.89 210.29H201.56M201.81 194.12V210.79M201.06 210.29H217.74M217.99 194.12V210.79M217.24 210.29H233.91M234.16 194.12V210.79M233.41 210.29H250.08M250.33 194.12V210.79M249.58 210.29H266.25M266.5 194.12V210.79M265.75 210.29H282.42M282.67 194.12V210.79M281.92 210.29H298.6M298.85 194.12V210.79M298.1 210.29H314.77M315.02 194.12V210.79M314.27 210.29H330.94M331.19 194.12V210.79M330.44 210.29H347.11M347.36 194.12V210.79M346.61 210.29H363.28M363.53 194.12V210.79M362.78 210.29H379.46M379.71 194.12V210.79M378.96 210.29H395.63M137.13 226.46V243.14M136.38 242.64H153.05M153.3 226.46V243.14M152.55 242.64H169.22M169.47 226.46V243.14M168.72 242.64H185.39M185.64 226.46V243.14M184.89 242.64H201.56M201.81 226.46V243.14M201.06 242.64H217.74M217.99 226.46V243.14M217.24 242.64H233.91M234.16 226.46V243.14M233.41 242.64H250.08M250.33 226.46V243.14M249.58 242.64H266.25M266.5 226.46V243.14M265.75 242.64H282.42M282.67 226.46V243.14M281.92 242.64H298.6M298.85 226.46V243.14M298.1 242.64H314.77M315.02 226.46V243.14M314.27 242.64H330.94M201.81 258.81V275.48M201.06 274.98H217.74M217.99 258.81V275.48M217.24 274.98H233.91M234.16 258.81V275.48M233.41 274.98H250.08M250.33 258.81V275.48M249.58 274.98H266.25M266.5 258.81V275.48M265.75 274.98H282.42M282.67 258.81V275.48M281.92 274.98H298.6M40.09 291.15V307.82M39.34 307.32H56.02M56.27 291.15V307.82M55.52 307.32H72.19M72.44 291.15V307.82M71.69 307.32H88.36M88.61 291.15V307.82M87.86 307.32H104.53M104.78 291.15V307.82M104.03 307.32H120.7M120.95 291.15V307.82M120.2 307.32H136.88M137.13 291.15V307.82M136.38 307.32H153.05M153.3 291.15V307.82M152.55 307.32H169.22M153.3 420.53V437.2M152.55 436.7H169.22M169.47 420.53V437.2M168.72 436.7H185.39M185.64 420.53V437.2M184.89 436.7H201.56M201.81 420.53V437.2M201.06 436.7H217.74M217.99 420.53V437.2M217.24 436.7H233.91M234.16 420.53V437.2M233.41 436.7H250.08M250.33 420.53V437.2M249.58 436.7H266.25M266.5 420.53V437.2M265.75 436.7H282.42M282.67 420.53V437.2M281.92 436.7H298.6M298.85 420.53V437.2M298.1 436.7H314.77M315.02 420.53V437.2M314.27 436.7H330.94M331.19 420.53V437.2M330.44 436.7H347.11M347.36 420.53V437.2M346.61 436.7H363.28M363.53 420.53V437.2M362.78 436.7H379.46M379.71 420.53V437.2M378.96 436.7H395.63M395.88 420.53V437.2M395.13 436.7H411.8M412.05 420.53V437.2M411.3 436.7H427.97M72.44 469.04V485.72M71.69 485.22H88.36M88.61 469.04V485.72M87.86 485.22H104.53M104.78 469.04V485.72M104.03 485.22H120.7M120.95 469.04V485.72M120.2 485.22H136.88M137.13 469.04V485.72M136.38 485.22H153.05M153.3 469.04V485.72M152.55 485.22H169.22M169.47 469.04V485.72M168.72 485.22H185.39M185.64 469.04V485.72M184.89 485.22H201.56M201.81 469.04V485.72M201.06 485.22H217.74M217.99 469.04V485.72M217.24 485.22H233.91M56.27 501.39V518.06M55.52 517.56H72.19M72.44 501.39V518.06M71.69 517.56H88.36M88.61 501.39V518.06M87.86 517.56H104.53M104.78 501.39V518.06M104.03 517.56H120.7M120.95 501.39V518.06M120.2 517.56H136.88M137.13 501.39V518.06M136.38 517.56H153.05M153.3 501.39V518.06M152.55 517.56H169.22M169.47 501.39V518.06M168.72 517.56H185.39M185.64 501.39V518.06M184.89 517.56H201.56M201.81 501.39V518.06M201.06 517.56H217.74M217.99 501.39V518.06M217.24 517.56H233.91M234.16 501.39V518.06M233.41 517.56H250.08M250.33 501.39V518.06M249.58 517.56H266.25M266.5 501.39V518.06M265.75 517.56H282.42M282.67 501.39V518.06M281.92 517.56H298.6M298.85 501.39V518.06M298.1 517.56H314.77M315.02 501.39V518.06M314.27 517.56H330.94M331.19 501.39V518.06M330.44 517.56H347.11M56.27 533.73V550.4M55.52 549.9H72.19M72.44 533.73V550.4M71.69 549.9H88.36M88.61 533.73V550.4M87.86 549.9H104.53M104.78 533.73V550.4M104.03 549.9H120.7M120.95 533.73V550.4M120.2 549.9H136.88M137.13 533.73V550.4M136.38 549.9H153.05M153.3 533.73V550.4M152.55 549.9H169.22M169.47 533.73V550.4M168.72 549.9H185.39M185.64 533.73V550.4M184.89 549.9H201.56M201.81 533.73V550.4M201.06 549.9H217.74M250.33 32.4V49.07M249.58 48.57H266.25M250.33 64.74V81.42M249.58 80.92H266.25M250.33 97.09V113.76M249.58 113.26H266.25M250.33 129.43V146.1M249.58 145.6H266.25M250.33 145.6V162.28M249.58 161.78H266.25M250.33 161.78V178.45M249.58 177.95H266.25M412.05 80.92V97.59M411.3 97.09H427.97M412.05 97.09V113.76M411.3 113.26H427.97M412.05 129.43V146.1M411.3 145.6H427.97M412.05 145.6V162.28M411.3 161.78H427.97M412.05 161.78V178.45M411.3 177.95H427.97M412.05 177.95V194.62M411.3 194.12H427.97M412.05 194.12V210.79M411.3 210.29H427.97M40.09 113.26V129.93M39.34 129.43H56.02M40.09 129.43V146.1M39.34 145.6H56.02M40.09 161.78V178.45M39.34 177.95H56.02M40.09 177.95V194.62M39.34 194.12H56.02M40.09 194.12V210.79M39.34 210.29H56.02M40.09 210.29V226.96M39.34 226.46H56.02M40.09 226.46V243.14M39.34 242.64H56.02M7.75 113.26V129.93M7 129.43H23.67M7.75 129.43V146.1M7 145.6H23.67M7.75 161.78V178.45M7 177.95H23.67M7.75 177.95V194.62M7 194.12H23.67M7.75 194.12V210.79M7 210.29H23.67M7.75 210.29V226.96M7 226.46H23.67M7.75 226.46V243.14M7 242.64H23.67M7.75 242.64V259.31M7 258.81H23.67M153.3 80.92V97.59M152.55 97.09H169.22M153.3 113.26V129.93M152.55 129.43H169.22M153.3 129.43V146.1M152.55 145.6H169.22M153.3 161.78V178.45M152.55 177.95H169.22M153.3 177.95V194.62M152.55 194.12H169.22M153.3 210.29V226.96M152.55 226.46H169.22M153.3 242.64V259.31M152.55 258.81H169.22M153.3 258.81V275.48M152.55 274.98H169.22M153.3 274.98V291.65M152.55 291.15H169.22M315.02 129.43V146.1M314.27 145.6H330.94M315.02 145.6V162.28M314.27 161.78H330.94M315.02 161.78V178.45M314.27 177.95H330.94M315.02 177.95V194.62M314.27 194.12H330.94M315.02 210.29V226.96M314.27 226.46H330.94M315.02 242.64V259.31M314.27 258.81H330.94M315.02 258.81V275.48M314.27 274.98H330.94M315.02 274.98V291.65M314.27 291.15H330.94M315.02 291.15V307.82M314.27 307.32H330.94M315.02 307.32V324M314.27 323.5H330.94M315.02 323.5V340.17M314.27 339.67H330.94M315.02 339.67V356.34M314.27 355.84H330.94M315.02 355.84V372.51M314.27 372.01H330.94M315.02 372.01V388.68M314.27 388.18H330.94M347.36 145.6V162.28M346.61 161.78H363.28M347.36 161.78V178.45M346.61 177.95H363.28M347.36 177.95V194.62M346.61 194.12H363.28M347.36 210.29V226.96M346.61 226.46H363.28M347.36 226.46V243.14M346.61 242.64H363.28M347.36 242.64V259.31M346.61 258.81H363.28M347.36 258.81V275.48M346.61 274.98H363.28M347.36 274.98V291.65M346.61 291.15H363.28M347.36 291.15V307.82M346.61 307.32H363.28M347.36 307.32V324M346.61 323.5H363.28M347.36 323.5V340.17M346.61 339.67H363.28M347.36 339.67V356.34M346.61 355.84H363.28M347.36 355.84V372.51M346.61 372.01H363.28M347.36 372.01V388.68M346.61 388.18H363.28M347.36 388.18V404.86M346.61 404.36H363.28M217.99 161.78V178.45M217.24 177.95H233.91M217.99 177.95V194.62M217.24 194.12H233.91M217.99 210.29V226.96M217.24 226.46H233.91M217.99 242.64V259.31M217.24 258.81H233.91M217.99 274.98V291.65M217.24 291.15H233.91M217.99 291.15V307.82M217.24 307.32H233.91M217.99 307.32V324M217.24 323.5H233.91M217.99 323.5V340.17M217.24 339.67H233.91M217.99 339.67V356.34M217.24 355.84H233.91M217.99 355.84V372.51M217.24 372.01H233.91M217.99 372.01V388.68M217.24 388.18H233.91M379.71 161.78V178.45M378.96 177.95H395.63M379.71 177.95V194.62M378.96 194.12H395.63M379.71 210.29V226.96M378.96 226.46H395.63M379.71 226.46V243.14M378.96 242.64H395.63M379.71 242.64V259.31M378.96 258.81H395.63M379.71 258.81V275.48M378.96 274.98H395.63M379.71 274.98V291.65M378.96 291.15H395.63M379.71 291.15V307.82M378.96 307.32H395.63M379.71 307.32V324M378.96 323.5H395.63M282.67 210.29V226.96M281.92 226.46H298.6M282.67 242.64V259.31M281.92 258.81H298.6M282.67 274.98V291.65M281.92 291.15H298.6M282.67 291.15V307.82M281.92 307.32H298.6M282.67 307.32V324M281.92 323.5H298.6M282.67 323.5V340.17M281.92 339.67H298.6M282.67 339.67V356.34M281.92 355.84H298.6M282.67 355.84V372.51M281.92 372.01H298.6M282.67 372.01V388.68M281.92 388.18H298.6M282.67 388.18V404.86M281.92 404.36H298.6M282.67 404.36V421.03M281.92 420.53H298.6M282.67 436.7V453.37M281.92 452.87H298.6M282.67 452.87V469.54M281.92 469.04H298.6M282.67 469.04V485.72M281.92 485.22H298.6M282.67 485.22V501.89M281.92 501.39H298.6M104.78 226.46V243.14M104.03 242.64H120.7M104.78 242.64V259.31M104.03 258.81H120.7M104.78 258.81V275.48M104.03 274.98H120.7M104.78 274.98V291.65M104.03 291.15H120.7M104.78 307.32V324M104.03 323.5H120.7M104.78 323.5V340.17M104.03 339.67H120.7M104.78 339.67V356.34M104.03 355.84H120.7M104.78 355.84V372.51M104.03 372.01H120.7M104.78 372.01V388.68M104.03 388.18H120.7M104.78 388.18V404.86M104.03 404.36H120.7M104.78 404.36V421.03M104.03 420.53H120.7M104.78 420.53V437.2M104.03 436.7H120.7M104.78 436.7V453.37M104.03 452.87H120.7M104.78 452.87V469.54M104.03 469.04H120.7M104.78 485.22V501.89M104.03 501.39H120.7M185.64 274.98V291.65M184.89 291.15H201.56M185.64 291.15V307.82M184.89 307.32H201.56M185.64 307.32V324M184.89 323.5H201.56M185.64 323.5V340.17M184.89 339.67H201.56M185.64 339.67V356.34M184.89 355.84H201.56M185.64 355.84V372.51M184.89 372.01H201.56M185.64 372.01V388.68M184.89 388.18H201.56M185.64 388.18V404.86M184.89 404.36H201.56M185.64 404.36V421.03M184.89 420.53H201.56M185.64 436.7V453.37M184.89 452.87H201.56M412.05 274.98V291.65M411.3 291.15H427.97M412.05 291.15V307.82M411.3 307.32H427.97M412.05 307.32V324M411.3 323.5H427.97M412.05 323.5V340.17M411.3 339.67H427.97M412.05 339.67V356.34M411.3 355.84H427.97M412.05 355.84V372.51M411.3 372.01H427.97M412.05 372.01V388.68M411.3 388.18H427.97M412.05 388.18V404.86M411.3 404.36H427.97M412.05 404.36V421.03M411.3 420.53H427.97M412.05 436.7V453.37M411.3 452.87H427.97M412.05 452.87V469.54M411.3 469.04H427.97M412.05 469.04V485.72M411.3 485.22H427.97M412.05 485.22V501.89M411.3 501.39H427.97M412.05 501.39V518.06M411.3 517.56H427.97M72.44 339.67V356.34M71.69 355.84H88.36M72.44 355.84V372.51M71.69 372.01H88.36M72.44 372.01V388.68M71.69 388.18H88.36M72.44 388.18V404.86M71.69 404.36H88.36M72.44 404.36V421.03M71.69 420.53H88.36M72.44 420.53V437.2M71.69 436.7H88.36M72.44 436.7V453.37M71.69 452.87H88.36M72.44 452.87V469.54M71.69 469.04H88.36M72.44 485.22V501.89M71.69 501.39H88.36M72.44 517.56V534.23M71.69 533.73H88.36M72.44 549.9V566.58M71.69 566.08H88.36M250.33 372.01V388.68M249.58 388.18H266.25M250.33 388.18V404.86M249.58 404.36H266.25M250.33 404.36V421.03M249.58 420.53H266.25M250.33 436.7V453.37M249.58 452.87H266.25M250.33 452.87V469.54M249.58 469.04H266.25M250.33 469.04V485.72M249.58 485.22H266.25M250.33 485.22V501.89M249.58 501.39H266.25M379.71 339.67V356.34M378.96 355.84H395.63M379.71 355.84V372.51M378.96 372.01H395.63M379.71 372.01V388.68M378.96 388.18H395.63M379.71 388.18V404.86M378.96 404.36H395.63M379.71 404.36V421.03M378.96 420.53H395.63M379.71 436.7V453.37M378.96 452.87H395.63M379.71 452.87V469.54M378.96 469.04H395.63M379.71 469.04V485.72M378.96 485.22H395.63" fill="none" stroke="#9b9b9b" stroke-width="1"/>
<rect x="56.12" y="64.74" width="16.07" height="15.77" fill="#00f06c"/>
<rect x="120.8" y="291.15" width="16.07" height="15.77" fill="#00f06c"/>
<rect x="104.63" y="436.7" width="16.07" height="15.77" fill="#00f06c"/>
<rect x="136.98" y="501.39" width="16.07" height="15.77" fill="#00f06c"/>
<rect x="347.21" y="194.12" width="16.07" height="15.77" fill="#00f06c"/>
<rect x="104.63" y="97.09" width="16.07" height="15.77" fill="#6080f6"/>
<rect x="153.15" y="129.43" width="16.07" height="15.77" fill="#6080f6"/>
<rect x="217.84" y="177.95" width="16.07" height="15.77" fill="#6080f6"/>
<rect x="201.66" y="226.46" width="16.07" height="15.77" fill="#6080f6"/>
<rect x="250.18" y="194.12" width="16.07" height="15.77" fill="#6080f6"/>
<rect x="104.63" y="226.46" width="16.07" height="15.77" fill="#6080f6"/>
<rect x="104.63" y="323.5" width="16.07" height="15.77" fill="#6080f6"/>
<rect x="153.15" y="501.39" width="16.07" height="15.77" fill="#6080f6"/>
<rect x="72.29" y="404.36" width="16.07" height="15.77" fill="#6080f6"/>
<rect x="347.21" y="291.15" width="16.07" height="15.77" fill="#6080f6"/>
<rect x="250.18" y="436.7" width="16.07" height="15.77" fill="#6080f6"/>
<rect x="217.84" y="64.74" width="16.07" height="15.77" fill="#ffff00"/>
<rect x="250.18" y="145.6" width="16.07" height="15.77" fill="#ffff00"/>
<rect x="7.6" y="210.29" width="16.07" height="15.77" fill="#ffff00"/>
<rect x="395.73" y="113.26" width="16.07" height="15.77" fill="#ffff00"/>
<rect x="411.9" y="291.15" width="16.07" height="15.77" fill="#ffff00"/>
<rect x="250.18" y="420.53" width="16.07" height="15.77" fill="#ffff00"/>
<rect x="153.15" y="533.73" width="16.07" height="15.77" fill="#ffff00"/>
<g font-size="10.3" fill="#111" stroke="#111" stroke-width="0.2"><text x="254.63" y="45.25">S</text><text x="254.63" y="61.44">T</text><text x="270.8" y="61.44">A</text><text x="286.97" y="61.44">K</text><text x="303.15" y="61.44">T</text><text x="319.32" y="61.44">U</text><text x="335.49" y="61.44">N</text><text x="351.66" y="61.44">G</text><text x="12.05" y="77.62">P</text><text x="28.22" y="77.62">U</text><text x="44.39" y="77.62">M</text><text x="60.57" y="77.62">P</text><text x="76.74" y="77.62">E</text><text x="92.91" y="77.62">N</text><text x="109.08" y="77.62">L</text><text x="125.25" y="77.62">E</text><text x="141.43" y="77.62">I</text><text x="157.6" y="77.62">S</text><text x="173.77" y="77.62">T</text><text x="189.94" y="77.62">U</text><text x="206.11" y="77.62">N</text><text x="222.29" y="77.62">G</text><text x="254.63" y="77.62">E</text><text x="157.6" y="93.81">M</text><text x="238.46" y="93.81">D</text><text x="254.63" y="93.81">I</text><text x="270.8" y="93.81">N</text><text x="286.97" y="93.81">1</text><text x="303.15" y="93.81">2</text><text x="319.32" y="93.81">8</text><text x="335.49" y="93.81">3</text><text x="351.66" y="93.81">1</text><text x="416.35" y="93.81">A</text><text x="28.22" y="110">T</text><text x="44.39" y="110">H</text><text x="60.57" y="110">E</text><text x="76.74" y="110">R</text><text x="92.91" y="110">M</text><text x="109.08" y="110">O</text><text x="125.25" y="110">S</text><text x="141.43" y="110">T</text><text x="157.6" y="110">A</text><text x="173.77" y="110">T</text><text x="254.63" y="110">L</text><text x="416.35" y="110">B</text><text x="12.05" y="126.18">E</text><text x="44.39" y="126.18">Y</text><text x="157.6" y="126.18">R</text><text x="206.11" y="126.18">N</text><text x="222.29" y="126.18">A</text><text x="238.46" y="126.18">C</text><text x="254.63" y="126.18">H</text><text x="270.8" y="126.18">T</text><text x="286.97" y="126.18">A</text><text x="303.15" y="126.18">B</text><text x="319.32" y="126.18">S</text><text x="335.49" y="126.18">E</text><text x="351.66" y="126.18">N</text><text x="367.83" y="126.18">K</text><text x="384.01" y="126.18">U</text><text x="400.18" y="126.18">N</text><text x="416.35" y="126.18">G</text><text x="12.05" y="142.37">F</text><text x="44.39" y="142.37">D</text><text x="157.6" y="142.37">T</text><text x="254.63" y="142.37">E</text><text x="319.32" y="142.37">O</text><text x="416.35" y="142.37">L</text><text x="12.05" y="158.56">F</text><text x="28.22" y="158.56">Ö</text><text x="44.39" y="158.56">R</text><text x="60.57" y="158.56">D</text><text x="76.74" y="158.56">E</text><text x="92.91" y="158.56">R</text><text x="109.08" y="158.56">M</text><text x="125.25" y="158.56">I</text><text x="141.43" y="158.56">T</text><text x="157.6" y="158.56">T</text><text x="173.77" y="158.56">E</text><text x="189.94" y="158.56">L</text><text x="254.63" y="158.56">I</text><text x="319.32" y="158.56">M</text><text x="351.66" y="158.56">S</text><text x="416.35" y="158.56">E</text><text x="12.05" y="174.75">I</text><text x="44.39" y="174.75">A</text><text x="157.6" y="174.75">H</text><text x="222.29" y="174.75">D</text><text x="254.63" y="174.75">T</text><text x="319.32" y="174.75">M</text><text x="351.66" y="174.75">Y</text><text x="384.01" y="174.75">W</text><text x="416.35" y="174.75">I</text><text x="12.05" y="190.93">Z</text><text x="44.39" y="190.93">U</text><text x="157.6" y="190.93">E</text><text x="222.29" y="190.93">I</text><text x="319.32" y="190.93">E</text><text x="351.66" y="190.93">S</text><text x="384.01" y="190.93">Ä</text><text x="416.35" y="190.93">C</text><text x="12.05" y="207.12">I</text><text x="44.39" y="207.12">L</text><text x="125.25" y="207.12">V</text><text x="141.43" y="207.12">O</text><text x="157.6" y="207.12">R</text><text x="173.77" y="207.12">L</text><text x="189.94" y="207.12">A</text><text x="206.11" y="207.12">U</text><text x="222.29" y="207.12">F</text><text x="238.46" y="207.12">T</text><text x="254.63" y="207.12">E</text><text x="270.8" y="207.12">M</text><text x="286.97" y="207.12">P</text><text x="303.15" y="207.12">E</text><text x="319.32" y="207.12">R</text><text x="335.49" y="207.12">A</text><text x="351.66" y="207.12">T</text><text x="367.83" y="207.12">U</text><text x="384.01" y="207.12">R</text><text x="416.35" y="207.12">H</text><text x="12.05" y="223.31">E</text><text x="44.39" y="223.31">I</text><text x="157.6" y="223.31">M</text><text x="222.29" y="223.31">F</text><text x="286.97" y="223.31">A</text><text x="319.32" y="223.31">U</text><text x="351.66" y="223.31">E</text><text x="384.01" y="223.31">M</text><text x="12.05" y="239.49">N</text><text x="44.39" y="239.49">K</text><text x="109.08" y="239.49">R</text><text x="141.43" y="239.49">V</text><text x="157.6" y="239.49">O</text><text x="173.77" y="239.49">L</text><text x="189.94" y="239.49">U</text><text x="206.11" y="239.49">M</text><text x="222.29" y="239.49">E</text><text x="238.46" y="239.49">N</text><text x="254.63" y="239.49">S</text><text x="270.8" y="239.49">T</text><text x="286.97" y="239.49">R</text><text x="303.15" y="239.49">O</text><text x="319.32" y="239.49">M</text><text x="351.66" y="239.49">M</text><text x="384.01" y="239.49">E</text><text x="12.05" y="255.68">Z</text><text x="109.08" y="255.68">Ü</text><text x="157.6" y="255.68">S</text><text x="222.29" y="255.68">R</text><text x="286.97" y="255.68">A</text><text x="319.32" y="255.68">S</text><text x="351.66" y="255.68">T</text><text x="384.01" y="255.68">P</text><text x="109.08" y="271.87">C</text><text x="157.6" y="271.87">T</text><text x="206.11" y="271.87">K</text><text x="222.29" y="271.87">E</text><text x="238.46" y="271.87">S</text><text x="254.63" y="271.87">S</text><text x="270.8" y="271.87">E</text><text x="286.97" y="271.87">L</text><text x="319.32" y="271.87">C</text><text x="351.66" y="271.87">E</text><text x="384.01" y="271.87">U</text><text x="109.08" y="288.06">K</text><text x="157.6" y="288.06">A</text><text x="189.94" y="288.06">T</text><text x="222.29" y="288.06">N</text><text x="286.97" y="288.06">L</text><text x="319.32" y="288.06">H</text><text x="351.66" y="288.06">M</text><text x="384.01" y="288.06">M</text><text x="416.35" y="288.06">B</text><text x="44.39" y="304.24">H</text><text x="60.57" y="304.24">E</text><text x="76.74" y="304.24">I</text><text x="92.91" y="304.24">Z</text><text x="109.08" y="304.24">L</text><text x="125.25" y="304.24">A</text><text x="141.43" y="304.24">S</text><text x="157.6" y="304.24">T</text><text x="189.94" y="304.24">H</text><text x="222.29" y="304.24">Z</text><text x="286.97" y="304.24">E</text><text x="319.32" y="304.24">A</text><text x="351.66" y="304.24">P</text><text x="384.01" y="304.24">P</text><text x="416.35" y="304.24">E</text><text x="109.08" y="320.43">A</text><text x="189.94" y="320.43">E</text><text x="222.29" y="320.43">D</text><text x="286.97" y="320.43">L</text><text x="319.32" y="320.43">L</text><text x="351.66" y="320.43">E</text><text x="384.01" y="320.43">E</text><text x="416.35" y="320.43">D</text><text x="109.08" y="336.62">U</text><text x="189.94" y="336.62">R</text><text x="222.29" y="336.62">R</text><text x="286.97" y="336.62">V</text><text x="319.32" y="336.62">T</text><text x="351.66" y="336.62">R</text><text x="416.35" y="336.62">A</text><text x="76.74" y="352.8">E</text><text x="109.08" y="352.8">F</text><text x="189.94" y="352.8">M</text><text x="222.29" y="352.8">U</text><text x="286.97" y="352.8">E</text><text x="319.32" y="352.8">U</text><text x="351.66" y="352.8">A</text><text x="384.01" y="352.8">H</text><text x="416.35" y="352.8">R</text><text x="76.74" y="368.99">N</text><text x="109.08" y="368.99">T</text><text x="189.94" y="368.99">O</text><text x="222.29" y="368.99">C</text><text x="286.97" y="368.99">R</text><text x="319.32" y="368.99">N</text><text x="351.66" y="368.99">T</text><text x="384.01" y="368.99">E</text><text x="416.35" y="368.99">F</text><text x="76.74" y="385.18">E</text><text x="109.08" y="385.18">E</text><text x="189.94" y="385.18">M</text><text x="222.29" y="385.18">K</text><text x="254.63" y="385.18">S</text><text x="286.97" y="385.18">S</text><text x="319.32" y="385.18">G</text><text x="351.66" y="385.18">U</text><text x="384.01" y="385.18">I</text><text x="416.35" y="385.18">S</text><text x="76.74" y="401.36">R</text><text x="109.08" y="401.36">M</text><text x="189.94" y="401.36">E</text><text x="254.63" y="401.36">P</text><text x="286.97" y="401.36">C</text><text x="351.66" y="401.36">R</text><text x="384.01" y="401.36">Z</text><text x="416.35" y="401.36">R</text><text x="76.74" y="417.55">G</text><text x="109.08" y="417.55">P</text><text x="189.94" y="417.55">T</text><text x="254.63" y="417.55">R</text><text x="286.97" y="417.55">H</text><text x="384.01" y="417.55">K</text><text x="416.35" y="417.55">E</text><text x="76.74" y="433.74">I</text><text x="109.08" y="433.74">E</text><text x="157.6" y="433.74">E</text><text x="173.77" y="433.74">N</text><text x="189.94" y="433.74">E</text><text x="206.11" y="433.74">R</text><text x="222.29" y="433.74">G</text><text x="238.46" y="433.74">I</text><text x="254.63" y="433.74">E</text><text x="270.8" y="433.74">E</text><text x="286.97" y="433.74">I</text><text x="303.15" y="433.74">N</text><text x="319.32" y="433.74">S</text><text x="335.49" y="433.74">P</text><text x="351.66" y="433.74">A</text><text x="367.83" y="433.74">R</text><text x="384.01" y="433.74">U</text><text x="400.18" y="433.74">N</text><text x="416.35" y="433.74">G</text><text x="76.74" y="449.93">E</text><text x="109.08" y="449.93">R</text><text x="189.94" y="449.93">R</text><text x="254.63" y="449.93">I</text><text x="286.97" y="449.93">E</text><text x="384.01" y="449.93">R</text><text x="416.35" y="449.93">E</text><text x="76.74" y="466.11">B</text><text x="109.08" y="466.11">A</text><text x="254.63" y="466.11">Z</text><text x="286.97" y="466.11">B</text><text x="384.01" y="466.11">V</text><text x="416.35" y="466.11">L</text><text x="76.74" y="482.3">E</text><text x="92.91" y="482.3">N</text><text x="109.08" y="482.3">T</text><text x="125.25" y="482.3">L</text><text x="141.43" y="482.3">Ü</text><text x="157.6" y="482.3">F</text><text x="173.77" y="482.3">T</text><text x="189.94" y="482.3">U</text><text x="206.11" y="482.3">N</text><text x="222.29" y="482.3">G</text><text x="254.63" y="482.3">U</text><text x="286.97" y="482.3">U</text><text x="384.01" y="482.3">E</text><text x="416.35" y="482.3">U</text><text x="76.74" y="498.49">R</text><text x="109.08" y="498.49">U</text><text x="254.63" y="498.49">N</text><text x="286.97" y="498.49">N</text><text x="416.35" y="498.49">N</text><text x="60.57" y="514.67">J</text><text x="76.74" y="514.67">A</text><text x="92.91" y="514.67">H</text><text x="109.08" y="514.67">R</text><text x="125.25" y="514.67">E</text><text x="141.43" y="514.67">S</text><text x="157.6" y="514.67">N</text><text x="173.77" y="514.67">U</text><text x="189.94" y="514.67">T</text><text x="206.11" y="514.67">Z</text><text x="222.29" y="514.67">U</text><text x="238.46" y="514.67">N</text><text x="254.63" y="514.67">G</text><text x="270.8" y="514.67">S</text><text x="286.97" y="514.67">G</text><text x="303.15" y="514.67">R</text><text x="319.32" y="514.67">A</text><text x="335.49" y="514.67">D</text><text x="416.35" y="514.67">G</text><text x="76.74" y="530.86">T</text><text x="60.57" y="547.05">H</text><text x="76.74" y="547.05">E</text><text x="92.91" y="547.05">I</text><text x="109.08" y="547.05">Z</text><text x="125.25" y="547.05">K</text><text x="141.43" y="547.05">Ö</text><text x="157.6" y="547.05">R</text><text x="173.77" y="547.05">P</text><text x="189.94" y="547.05">E</text><text x="206.11" y="547.05">R</text><text x="76.74" y="563.23">R</text></g>
<g font-size="4.4" fill="#000" stroke="#000" stroke-width="0.1"><text x="251.68" y="37">10</text><text x="251.68" y="53.17">5</text><text x="9.1" y="69.34">19</text><text x="154.65" y="69.34">29</text><text x="235.51" y="85.52">26</text><text x="413.4" y="85.52">7</text><text x="25.27" y="101.69">12</text><text x="41.44" y="101.69">28</text><text x="9.1" y="117.86">2</text><text x="203.16" y="117.86">17</text><text x="316.37" y="117.86">30</text><text x="9.1" y="150.2">16</text><text x="348.71" y="150.2">8</text><text x="219.34" y="166.38">22</text><text x="381.06" y="166.38">25</text><text x="122.3" y="198.72">3</text><text x="284.02" y="198.72">27</text><text x="106.13" y="231.06">23</text><text x="138.48" y="231.06">4</text><text x="203.16" y="263.41">24</text><text x="186.99" y="279.58">13</text><text x="413.4" y="279.58">20</text><text x="41.44" y="295.75">6</text><text x="73.79" y="344.27">1</text><text x="381.06" y="344.27">11</text><text x="251.68" y="376.61">9</text><text x="154.65" y="425.13">18</text><text x="73.79" y="473.64">14</text><text x="57.62" y="505.99">15</text><text x="57.62" y="538.33">21</text></g>
<rect x="5.1" y="586.9" width="15.78" height="15.8" fill="#6080f6" stroke="#3f55c0" stroke-width="0.9"/><rect x="20.88" y="586.9" width="15.78" height="15.8" fill="#6080f6" stroke="#3f55c0" stroke-width="0.9"/><rect x="36.66" y="586.9" width="15.78" height="15.8" fill="#6080f6" stroke="#3f55c0" stroke-width="0.9"/><rect x="52.44" y="586.9" width="15.78" height="15.8" fill="#6080f6" stroke="#3f55c0" stroke-width="0.9"/><rect x="68.22" y="586.9" width="15.78" height="15.8" fill="#6080f6" stroke="#3f55c0" stroke-width="0.9"/><rect x="84" y="586.9" width="15.78" height="15.8" fill="#6080f6" stroke="#3f55c0" stroke-width="0.9"/><rect x="99.78" y="586.9" width="15.78" height="15.8" fill="#6080f6" stroke="#3f55c0" stroke-width="0.9"/><rect x="115.56" y="586.9" width="15.78" height="15.8" fill="#6080f6" stroke="#3f55c0" stroke-width="0.9"/><rect x="131.34" y="586.9" width="15.78" height="15.8" fill="#6080f6" stroke="#3f55c0" stroke-width="0.9"/><rect x="147.12" y="586.9" width="15.78" height="15.8" fill="#6080f6" stroke="#3f55c0" stroke-width="0.9"/><rect x="162.9" y="586.9" width="15.78" height="15.8" fill="#6080f6" stroke="#3f55c0" stroke-width="0.9"/><rect x="194.46" y="586.9" width="15.78" height="15.8" fill="#00f06c" stroke="#10a050" stroke-width="0.9"/><rect x="210.24" y="586.9" width="15.78" height="15.8" fill="#00f06c" stroke="#10a050" stroke-width="0.9"/><rect x="226.02" y="586.9" width="15.78" height="15.8" fill="#00f06c" stroke="#10a050" stroke-width="0.9"/><rect x="241.8" y="586.9" width="15.78" height="15.8" fill="#00f06c" stroke="#10a050" stroke-width="0.9"/><rect x="257.58" y="586.9" width="15.78" height="15.8" fill="#00f06c" stroke="#10a050" stroke-width="0.9"/><rect x="289.14" y="586.9" width="15.78" height="15.8" fill="#ffff00" stroke="#a8a800" stroke-width="0.9"/><rect x="304.92" y="586.9" width="15.78" height="15.8" fill="#ffff00" stroke="#a8a800" stroke-width="0.9"/><rect x="320.7" y="586.9" width="15.78" height="15.8" fill="#ffff00" stroke="#a8a800" stroke-width="0.9"/><rect x="336.48" y="586.9" width="15.78" height="15.8" fill="#ffff00" stroke="#a8a800" stroke-width="0.9"/><rect x="352.26" y="586.9" width="15.78" height="15.8" fill="#ffff00" stroke="#a8a800" stroke-width="0.9"/><rect x="368.04" y="586.9" width="15.78" height="15.8" fill="#ffff00" stroke="#a8a800" stroke-width="0.9"/><rect x="383.82" y="586.9" width="15.78" height="15.8" fill="#ffff00" stroke="#a8a800" stroke-width="0.9"/>
<g font-size="12.8" fill="#111" stroke="#111" stroke-width="0.2"><text transform="translate(7.8 599.6) scale(1.0 1)">O</text><text transform="translate(23.58 599.6) scale(1.0 1)">P</text><text transform="translate(39.36 599.6) scale(1.0 1)">T</text><text transform="translate(55.14 599.6) scale(1.0 1)">I</text><text transform="translate(70.92 599.6) scale(1.0 1)">M</text><text transform="translate(86.7 599.6) scale(1.0 1)">I</text><text transform="translate(102.48 599.6) scale(1.0 1)">E</text><text transform="translate(118.26 599.6) scale(1.0 1)">R</text><text transform="translate(134.04 599.6) scale(1.0 1)">U</text><text transform="translate(149.82 599.6) scale(1.0 1)">N</text><text transform="translate(165.6 599.6) scale(1.0 1)">G</text><text transform="translate(197.16 599.6) scale(1.0 1)">S</text><text transform="translate(212.94 599.6) scale(1.0 1)">P</text><text transform="translate(228.72 599.6) scale(1.0 1)">A</text><text transform="translate(244.5 599.6) scale(1.0 1)">R</text><text transform="translate(260.28 599.6) scale(1.0 1)">T</text><text transform="translate(291.84 599.6) scale(1.0 1)">E</text><text transform="translate(307.62 599.6) scale(1.0 1)">N</text><text transform="translate(323.4 599.6) scale(1.0 1)">E</text><text transform="translate(339.18 599.6) scale(1.0 1)">R</text><text transform="translate(354.96 599.6) scale(1.0 1)">G</text><text transform="translate(370.74 599.6) scale(1.0 1)">I</text><text transform="translate(386.52 599.6) scale(1.0 1)">E</text></g>
<g font-size="10.4" fill="#1a1a1a" stroke="#1a1a1a" stroke-width="0.25"><g text-anchor="end"><text transform="translate(501.7 62.65) scale(1.0356 1)">1.</text><text transform="translate(501.7 76.89) scale(1.0356 1)">2.</text><text transform="translate(501.7 91.13) scale(1.0356 1)">3.</text><text transform="translate(501.7 105.37) scale(1.0356 1)">4.</text><text transform="translate(501.7 119.61) scale(1.0356 1)">5.</text><text transform="translate(501.7 133.85) scale(1.0356 1)">6.</text><text transform="translate(501.7 148.09) scale(1.0356 1)">7.</text><text transform="translate(501.7 162.33) scale(1.0356 1)">8.</text><text transform="translate(501.7 176.57) scale(1.0356 1)">9.</text><text transform="translate(501.7 190.81) scale(1.0356 1)">10.</text><text transform="translate(501.7 205.05) scale(1.0356 1)">11.</text><text transform="translate(501.7 219.29) scale(1.0356 1)">12.</text><text transform="translate(501.7 233.53) scale(1.0356 1)">13.</text><text transform="translate(501.7 247.77) scale(1.0356 1)">14.</text><text transform="translate(501.7 262.01) scale(1.0356 1)">15.</text><text transform="translate(501.7 276.25) scale(1.0356 1)">16.</text><text transform="translate(501.7 290.49) scale(1.0356 1)">17.</text><text transform="translate(501.7 304.73) scale(1.0356 1)">18.</text><text transform="translate(501.7 318.97) scale(1.0356 1)">19.</text><text transform="translate(501.7 333.21) scale(1.0356 1)">20.</text><text transform="translate(501.7 347.45) scale(1.0356 1)">21.</text><text transform="translate(501.7 361.69) scale(1.0356 1)">22.</text><text transform="translate(501.7 375.93) scale(1.0356 1)">23.</text><text transform="translate(501.7 390.17) scale(1.0356 1)">24.</text><text transform="translate(501.7 404.41) scale(1.0356 1)">25.</text><text transform="translate(501.7 418.65) scale(1.0356 1)">26.</text><text transform="translate(501.7 432.89) scale(1.0356 1)">27.</text><text transform="translate(501.7 447.13) scale(1.0356 1)">28.</text><text transform="translate(501.7 461.37) scale(1.0356 1)">29.</text><text transform="translate(501.7 475.61) scale(1.0356 1)">30.</text></g><text transform="translate(517.1 62.65) scale(1.0356 1)">Fachhkraft mit Fokus auf Energieeinsparung</text><text transform="translate(517.1 76.89) scale(1.0356 1)">Hohe ... spart Geld und CO2</text><text transform="translate(517.1 91.13) scale(1.0356 1)">Steuert die Wärme, die ins System fließt</text><text transform="translate(517.1 105.37) scale(1.0356 1)">Bewegt warmes Wasser durchs Haus</text><text transform="translate(517.1 119.61) scale(1.0356 1)">Häufiges Ein- und Ausschalten</text><text transform="translate(517.1 133.85) scale(1.0356 1)">Berechnete Leistung je Raum</text><text transform="translate(517.1 148.09) scale(1.0356 1)">Stellt gleichmäßige Wärmeverteilung sicher</text><text transform="translate(517.1 162.33) scale(1.0356 1)">Fasst Vorlauf-, Rücklauf- und Raumtemperatur zusammen</text><text transform="translate(517.1 176.57) scale(1.0356 1)">Differenz zwischen Vor- und Rücklauf</text><text transform="translate(517.1 190.81) scale(1.0356 1)">Legt Anstieg der Heizkurve fest</text><text transform="translate(517.1 205.05) scale(1.0356 1)">Zentrale Kennlinie der Heizungsregelung</text><text transform="translate(517.1 219.29) scale(1.0356 1)">Steuert Raumtemperatur loka</text><text transform="translate(517.1 233.53) scale(1.0356 1)">Gerät zur Temperaturmessung</text><text transform="translate(517.1 247.77) scale(1.0356 1)">Entfernt Luft aus Heizsystemen</text><text transform="translate(517.1 262.01) scale(1.0356 1)">Maß für die Nutzbarkeit eingesetzter Energie</text><text transform="translate(517.1 276.25) scale(1.0356 1)">Geld vom Staat für Optimierung</text><text transform="translate(517.1 290.49) scale(1.0356 1)">Reduziert Heizleistung nachts</text><text transform="translate(517.1 304.73) scale(1.0356 1)">Ziel jeder Betriebsoptimierung</text><text transform="translate(517.1 318.97) scale(1.0356 1)">Beeinflusst Fördermenge im Heizsystem</text><text transform="translate(517.1 333.21) scale(1.0356 1)">Passt Leistung an tatsächlichen Bedarf an</text><text transform="translate(517.1 347.45) scale(1.0356 1)">Gibt die Wärme an den Raum ab</text><text transform="translate(517.1 361.69) scale(1.0356 1)">Wichtige Größe für den Abgleich</text><text transform="translate(517.1 375.93) scale(1.0356 1)">Temperatur des zurückströmenden Heizwassers</text><text transform="translate(517.1 390.17) scale(1.0356 1)">Wärmeerzeuger im Heizkeller</text><text transform="translate(517.1 404.41) scale(1.0356 1)">Erzeugt Wärme aus Strom und Umwelt</text><text transform="translate(517.1 418.65) scale(1.0356 1)">Norm zur Heizlastberechnung</text><text transform="translate(517.1 432.89) scale(1.0356 1)">Verschiebt Heizkurve nach oben/unten</text><text transform="translate(517.1 447.13) scale(1.0356 1)">Kurzform für wasserführendes System</text><text transform="translate(517.1 461.37) scale(1.0356 1)">Digital steuerbarer Temperaturregler</text><text transform="translate(517.1 475.61) scale(1.0356 1)">Schaltet Anlage im Sommer ab</text></g>
<text x="436.6" y="22.6" text-anchor="middle" font-size="20.6" fill="#000" stroke="#000" stroke-width="0.25">Teste Dein Wissen</text>
</svg>
</body></html>
